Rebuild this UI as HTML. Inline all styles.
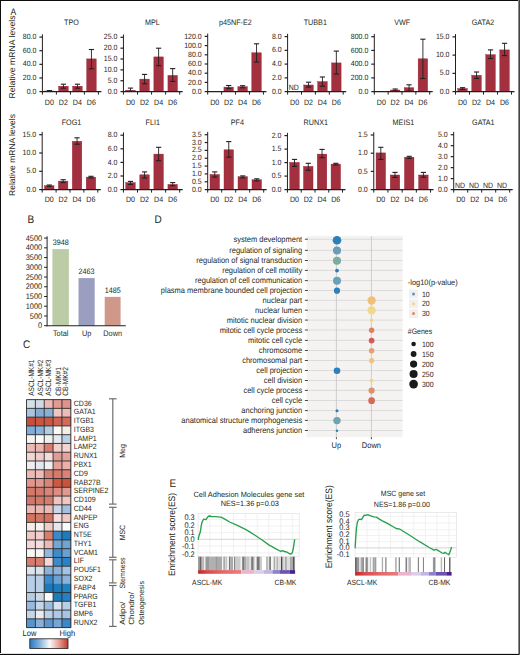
<!DOCTYPE html>
<html><head><meta charset="utf-8"><style>
html,body{margin:0;padding:0;background:#fff;}
svg{display:block;font-family:"Liberation Sans", sans-serif;text-rendering:geometricPrecision;}
</style></head><body>
<svg width="520" height="655" viewBox="0 0 520 655">
<rect x="0" y="0" width="520" height="655" fill="#ffffff"/>
<text transform="translate(71.40,24.60) scale(0.9091,1)" font-size="7.92" text-anchor="middle" fill="#231f20" >TPO</text>
<line x1="42.40" y1="34.30" x2="42.40" y2="92.10" stroke="#231f20" stroke-width="1.0" />
<line x1="39.40" y1="37.10" x2="42.40" y2="37.10" stroke="#231f20" stroke-width="1.2" />
<text transform="translate(36.40,39.20) scale(0.9091,1)" font-size="7.70" text-anchor="end" fill="#231f20" >80.0</text>
<line x1="39.40" y1="50.73" x2="42.40" y2="50.73" stroke="#231f20" stroke-width="1.2" />
<text transform="translate(36.40,52.83) scale(0.9091,1)" font-size="7.70" text-anchor="end" fill="#231f20" >60.0</text>
<line x1="39.40" y1="64.35" x2="42.40" y2="64.35" stroke="#231f20" stroke-width="1.2" />
<text transform="translate(36.40,66.45) scale(0.9091,1)" font-size="7.70" text-anchor="end" fill="#231f20" >40.0</text>
<line x1="39.40" y1="77.97" x2="42.40" y2="77.97" stroke="#231f20" stroke-width="1.2" />
<text transform="translate(36.40,80.07) scale(0.9091,1)" font-size="7.70" text-anchor="end" fill="#231f20" >20.0</text>
<line x1="39.40" y1="91.60" x2="42.40" y2="91.60" stroke="#231f20" stroke-width="1.2" />
<text transform="translate(36.40,93.70) scale(0.9091,1)" font-size="7.70" text-anchor="end" fill="#231f20" >0.0</text>
<rect x="44.70" y="91.00" width="9.50" height="0.60" fill="#a3303f" stroke="#9a1c30" stroke-width="0.4"/>
<line x1="49.45" y1="90.60" x2="49.45" y2="91.20" stroke="#231f20" stroke-width="0.9" />
<line x1="46.85" y1="90.60" x2="52.05" y2="90.60" stroke="#231f20" stroke-width="1.1" />
<line x1="46.85" y1="91.20" x2="52.05" y2="91.20" stroke="#231f20" stroke-width="1.1" />
<rect x="58.70" y="86.20" width="9.50" height="5.40" fill="#a3303f" stroke="#9a1c30" stroke-width="0.4"/>
<line x1="63.45" y1="84.20" x2="63.45" y2="88.20" stroke="#231f20" stroke-width="0.9" />
<line x1="60.85" y1="84.20" x2="66.05" y2="84.20" stroke="#231f20" stroke-width="1.1" />
<line x1="60.85" y1="88.20" x2="66.05" y2="88.20" stroke="#231f20" stroke-width="1.1" />
<rect x="72.70" y="86.20" width="9.50" height="5.40" fill="#a3303f" stroke="#9a1c30" stroke-width="0.4"/>
<line x1="77.45" y1="84.20" x2="77.45" y2="88.20" stroke="#231f20" stroke-width="0.9" />
<line x1="74.85" y1="84.20" x2="80.05" y2="84.20" stroke="#231f20" stroke-width="1.1" />
<line x1="74.85" y1="88.20" x2="80.05" y2="88.20" stroke="#231f20" stroke-width="1.1" />
<rect x="86.70" y="58.90" width="9.50" height="32.70" fill="#a3303f" stroke="#9a1c30" stroke-width="0.4"/>
<line x1="91.45" y1="49.50" x2="91.45" y2="68.80" stroke="#231f20" stroke-width="0.9" />
<line x1="88.85" y1="49.50" x2="94.05" y2="49.50" stroke="#231f20" stroke-width="1.1" />
<line x1="88.85" y1="68.80" x2="94.05" y2="68.80" stroke="#231f20" stroke-width="1.1" />
<line x1="41.90" y1="91.60" x2="101.40" y2="91.60" stroke="#231f20" stroke-width="1.1" />
<line x1="42.40" y1="91.60" x2="42.40" y2="94.60" stroke="#231f20" stroke-width="1.0" />
<line x1="56.40" y1="91.60" x2="56.40" y2="94.60" stroke="#231f20" stroke-width="1.0" />
<line x1="70.40" y1="91.60" x2="70.40" y2="94.60" stroke="#231f20" stroke-width="1.0" />
<line x1="84.40" y1="91.60" x2="84.40" y2="94.60" stroke="#231f20" stroke-width="1.0" />
<line x1="98.40" y1="91.60" x2="98.40" y2="94.60" stroke="#231f20" stroke-width="1.0" />
<text transform="translate(49.40,104.70) scale(0.9091,1)" font-size="7.81" text-anchor="middle" fill="#231f20" >D0</text>
<text transform="translate(63.40,104.70) scale(0.9091,1)" font-size="7.81" text-anchor="middle" fill="#231f20" >D2</text>
<text transform="translate(77.40,104.70) scale(0.9091,1)" font-size="7.81" text-anchor="middle" fill="#231f20" >D4</text>
<text transform="translate(91.40,104.70) scale(0.9091,1)" font-size="7.81" text-anchor="middle" fill="#231f20" >D6</text>
<text transform="translate(152.30,24.60) scale(0.9091,1)" font-size="7.92" text-anchor="middle" fill="#231f20" >MPL</text>
<line x1="123.45" y1="34.50" x2="123.45" y2="92.10" stroke="#231f20" stroke-width="1.0" />
<line x1="120.45" y1="37.30" x2="123.45" y2="37.30" stroke="#231f20" stroke-width="1.2" />
<text transform="translate(117.45,39.40) scale(0.9091,1)" font-size="7.70" text-anchor="end" fill="#231f20" >25.0</text>
<line x1="120.45" y1="48.16" x2="123.45" y2="48.16" stroke="#231f20" stroke-width="1.2" />
<text transform="translate(117.45,50.26) scale(0.9091,1)" font-size="7.70" text-anchor="end" fill="#231f20" >20.0</text>
<line x1="120.45" y1="59.02" x2="123.45" y2="59.02" stroke="#231f20" stroke-width="1.2" />
<text transform="translate(117.45,61.12) scale(0.9091,1)" font-size="7.70" text-anchor="end" fill="#231f20" >15.0</text>
<line x1="120.45" y1="69.88" x2="123.45" y2="69.88" stroke="#231f20" stroke-width="1.2" />
<text transform="translate(117.45,71.98) scale(0.9091,1)" font-size="7.70" text-anchor="end" fill="#231f20" >10.0</text>
<line x1="120.45" y1="80.74" x2="123.45" y2="80.74" stroke="#231f20" stroke-width="1.2" />
<text transform="translate(117.45,82.84) scale(0.9091,1)" font-size="7.70" text-anchor="end" fill="#231f20" >5.0</text>
<line x1="120.45" y1="91.60" x2="123.45" y2="91.60" stroke="#231f20" stroke-width="1.2" />
<text transform="translate(117.45,93.70) scale(0.9091,1)" font-size="7.70" text-anchor="end" fill="#231f20" >0.0</text>
<rect x="125.75" y="90.20" width="9.50" height="1.40" fill="#a3303f" stroke="#9a1c30" stroke-width="0.4"/>
<line x1="130.50" y1="88.10" x2="130.50" y2="91.40" stroke="#231f20" stroke-width="0.9" />
<line x1="127.90" y1="88.10" x2="133.10" y2="88.10" stroke="#231f20" stroke-width="1.1" />
<line x1="127.90" y1="91.40" x2="133.10" y2="91.40" stroke="#231f20" stroke-width="1.1" />
<rect x="139.81" y="79.10" width="9.50" height="12.50" fill="#a3303f" stroke="#9a1c30" stroke-width="0.4"/>
<line x1="144.56" y1="74.40" x2="144.56" y2="83.80" stroke="#231f20" stroke-width="0.9" />
<line x1="141.96" y1="74.40" x2="147.16" y2="74.40" stroke="#231f20" stroke-width="1.1" />
<line x1="141.96" y1="83.80" x2="147.16" y2="83.80" stroke="#231f20" stroke-width="1.1" />
<rect x="153.87" y="56.90" width="9.50" height="34.70" fill="#a3303f" stroke="#9a1c30" stroke-width="0.4"/>
<line x1="158.62" y1="48.20" x2="158.62" y2="65.70" stroke="#231f20" stroke-width="0.9" />
<line x1="156.02" y1="48.20" x2="161.22" y2="48.20" stroke="#231f20" stroke-width="1.1" />
<line x1="156.02" y1="65.70" x2="161.22" y2="65.70" stroke="#231f20" stroke-width="1.1" />
<rect x="167.93" y="75.40" width="9.50" height="16.20" fill="#a3303f" stroke="#9a1c30" stroke-width="0.4"/>
<line x1="172.68" y1="68.60" x2="172.68" y2="81.40" stroke="#231f20" stroke-width="0.9" />
<line x1="170.08" y1="68.60" x2="175.28" y2="68.60" stroke="#231f20" stroke-width="1.1" />
<line x1="170.08" y1="81.40" x2="175.28" y2="81.40" stroke="#231f20" stroke-width="1.1" />
<line x1="122.95" y1="91.60" x2="182.69" y2="91.60" stroke="#231f20" stroke-width="1.1" />
<line x1="123.45" y1="91.60" x2="123.45" y2="94.60" stroke="#231f20" stroke-width="1.0" />
<line x1="137.51" y1="91.60" x2="137.51" y2="94.60" stroke="#231f20" stroke-width="1.0" />
<line x1="151.57" y1="91.60" x2="151.57" y2="94.60" stroke="#231f20" stroke-width="1.0" />
<line x1="165.63" y1="91.60" x2="165.63" y2="94.60" stroke="#231f20" stroke-width="1.0" />
<line x1="179.69" y1="91.60" x2="179.69" y2="94.60" stroke="#231f20" stroke-width="1.0" />
<text transform="translate(130.45,104.70) scale(0.9091,1)" font-size="7.81" text-anchor="middle" fill="#231f20" >D0</text>
<text transform="translate(144.51,104.70) scale(0.9091,1)" font-size="7.81" text-anchor="middle" fill="#231f20" >D2</text>
<text transform="translate(158.57,104.70) scale(0.9091,1)" font-size="7.81" text-anchor="middle" fill="#231f20" >D4</text>
<text transform="translate(172.63,104.70) scale(0.9091,1)" font-size="7.81" text-anchor="middle" fill="#231f20" >D6</text>
<text transform="translate(235.40,24.60) scale(0.9091,1)" font-size="7.92" text-anchor="middle" fill="#231f20" >p45NF-E2</text>
<line x1="207.70" y1="33.60" x2="207.70" y2="92.10" stroke="#231f20" stroke-width="1.0" />
<line x1="204.70" y1="36.40" x2="207.70" y2="36.40" stroke="#231f20" stroke-width="1.2" />
<text transform="translate(201.70,38.50) scale(0.9091,1)" font-size="7.70" text-anchor="end" fill="#231f20" >120.0</text>
<line x1="204.70" y1="45.60" x2="207.70" y2="45.60" stroke="#231f20" stroke-width="1.2" />
<text transform="translate(201.70,47.70) scale(0.9091,1)" font-size="7.70" text-anchor="end" fill="#231f20" >100.0</text>
<line x1="204.70" y1="54.80" x2="207.70" y2="54.80" stroke="#231f20" stroke-width="1.2" />
<text transform="translate(201.70,56.90) scale(0.9091,1)" font-size="7.70" text-anchor="end" fill="#231f20" >80.0</text>
<line x1="204.70" y1="64.00" x2="207.70" y2="64.00" stroke="#231f20" stroke-width="1.2" />
<text transform="translate(201.70,66.10) scale(0.9091,1)" font-size="7.70" text-anchor="end" fill="#231f20" >60.0</text>
<line x1="204.70" y1="73.20" x2="207.70" y2="73.20" stroke="#231f20" stroke-width="1.2" />
<text transform="translate(201.70,75.30) scale(0.9091,1)" font-size="7.70" text-anchor="end" fill="#231f20" >40.0</text>
<line x1="204.70" y1="82.40" x2="207.70" y2="82.40" stroke="#231f20" stroke-width="1.2" />
<text transform="translate(201.70,84.50) scale(0.9091,1)" font-size="7.70" text-anchor="end" fill="#231f20" >20.0</text>
<line x1="204.70" y1="91.60" x2="207.70" y2="91.60" stroke="#231f20" stroke-width="1.2" />
<text transform="translate(201.70,93.70) scale(0.9091,1)" font-size="7.70" text-anchor="end" fill="#231f20" >0.0</text>
<rect x="210.00" y="91.30" width="9.50" height="0.30" fill="#a3303f" stroke="#9a1c30" stroke-width="0.4"/>
<rect x="223.93" y="87.10" width="9.50" height="4.50" fill="#a3303f" stroke="#9a1c30" stroke-width="0.4"/>
<line x1="228.68" y1="85.50" x2="228.68" y2="88.60" stroke="#231f20" stroke-width="0.9" />
<line x1="226.08" y1="85.50" x2="231.28" y2="85.50" stroke="#231f20" stroke-width="1.1" />
<line x1="226.08" y1="88.60" x2="231.28" y2="88.60" stroke="#231f20" stroke-width="1.1" />
<rect x="237.86" y="86.70" width="9.50" height="4.90" fill="#a3303f" stroke="#9a1c30" stroke-width="0.4"/>
<line x1="242.61" y1="85.70" x2="242.61" y2="87.80" stroke="#231f20" stroke-width="0.9" />
<line x1="240.01" y1="85.70" x2="245.21" y2="85.70" stroke="#231f20" stroke-width="1.1" />
<line x1="240.01" y1="87.80" x2="245.21" y2="87.80" stroke="#231f20" stroke-width="1.1" />
<rect x="251.79" y="52.80" width="9.50" height="38.80" fill="#a3303f" stroke="#9a1c30" stroke-width="0.4"/>
<line x1="256.54" y1="43.80" x2="256.54" y2="62.00" stroke="#231f20" stroke-width="0.9" />
<line x1="253.94" y1="43.80" x2="259.14" y2="43.80" stroke="#231f20" stroke-width="1.1" />
<line x1="253.94" y1="62.00" x2="259.14" y2="62.00" stroke="#231f20" stroke-width="1.1" />
<line x1="207.20" y1="91.60" x2="266.42" y2="91.60" stroke="#231f20" stroke-width="1.1" />
<line x1="207.70" y1="91.60" x2="207.70" y2="94.60" stroke="#231f20" stroke-width="1.0" />
<line x1="221.63" y1="91.60" x2="221.63" y2="94.60" stroke="#231f20" stroke-width="1.0" />
<line x1="235.56" y1="91.60" x2="235.56" y2="94.60" stroke="#231f20" stroke-width="1.0" />
<line x1="249.49" y1="91.60" x2="249.49" y2="94.60" stroke="#231f20" stroke-width="1.0" />
<line x1="263.42" y1="91.60" x2="263.42" y2="94.60" stroke="#231f20" stroke-width="1.0" />
<text transform="translate(214.70,104.70) scale(0.9091,1)" font-size="7.81" text-anchor="middle" fill="#231f20" >D0</text>
<text transform="translate(228.63,104.70) scale(0.9091,1)" font-size="7.81" text-anchor="middle" fill="#231f20" >D2</text>
<text transform="translate(242.56,104.70) scale(0.9091,1)" font-size="7.81" text-anchor="middle" fill="#231f20" >D4</text>
<text transform="translate(256.49,104.70) scale(0.9091,1)" font-size="7.81" text-anchor="middle" fill="#231f20" >D6</text>
<text transform="translate(315.30,24.60) scale(0.9091,1)" font-size="7.92" text-anchor="middle" fill="#231f20" >TUBB1</text>
<line x1="287.60" y1="33.80" x2="287.60" y2="92.10" stroke="#231f20" stroke-width="1.0" />
<line x1="284.60" y1="36.60" x2="287.60" y2="36.60" stroke="#231f20" stroke-width="1.2" />
<text transform="translate(281.60,38.70) scale(0.9091,1)" font-size="7.70" text-anchor="end" fill="#231f20" >8.0</text>
<line x1="284.60" y1="50.35" x2="287.60" y2="50.35" stroke="#231f20" stroke-width="1.2" />
<text transform="translate(281.60,52.45) scale(0.9091,1)" font-size="7.70" text-anchor="end" fill="#231f20" >6.0</text>
<line x1="284.60" y1="64.10" x2="287.60" y2="64.10" stroke="#231f20" stroke-width="1.2" />
<text transform="translate(281.60,66.20) scale(0.9091,1)" font-size="7.70" text-anchor="end" fill="#231f20" >4.0</text>
<line x1="284.60" y1="77.85" x2="287.60" y2="77.85" stroke="#231f20" stroke-width="1.2" />
<text transform="translate(281.60,79.95) scale(0.9091,1)" font-size="7.70" text-anchor="end" fill="#231f20" >2.0</text>
<line x1="284.60" y1="91.60" x2="287.60" y2="91.60" stroke="#231f20" stroke-width="1.2" />
<text transform="translate(281.60,93.70) scale(0.9091,1)" font-size="7.70" text-anchor="end" fill="#231f20" >0.0</text>
<text transform="translate(288.80,89.70) scale(0.9091,1)" font-size="7.70" text-anchor="start" fill="#231f20" >ND</text>
<rect x="303.80" y="85.00" width="9.50" height="6.60" fill="#a3303f" stroke="#9a1c30" stroke-width="0.4"/>
<line x1="308.55" y1="82.20" x2="308.55" y2="87.10" stroke="#231f20" stroke-width="0.9" />
<line x1="305.95" y1="82.20" x2="311.15" y2="82.20" stroke="#231f20" stroke-width="1.1" />
<line x1="305.95" y1="87.10" x2="311.15" y2="87.10" stroke="#231f20" stroke-width="1.1" />
<rect x="317.70" y="81.60" width="9.50" height="10.00" fill="#a3303f" stroke="#9a1c30" stroke-width="0.4"/>
<line x1="322.45" y1="77.00" x2="322.45" y2="86.20" stroke="#231f20" stroke-width="0.9" />
<line x1="319.85" y1="77.00" x2="325.05" y2="77.00" stroke="#231f20" stroke-width="1.1" />
<line x1="319.85" y1="86.20" x2="325.05" y2="86.20" stroke="#231f20" stroke-width="1.1" />
<rect x="331.60" y="62.90" width="9.50" height="28.70" fill="#a3303f" stroke="#9a1c30" stroke-width="0.4"/>
<line x1="336.35" y1="51.10" x2="336.35" y2="74.10" stroke="#231f20" stroke-width="0.9" />
<line x1="333.75" y1="51.10" x2="338.95" y2="51.10" stroke="#231f20" stroke-width="1.1" />
<line x1="333.75" y1="74.10" x2="338.95" y2="74.10" stroke="#231f20" stroke-width="1.1" />
<line x1="287.10" y1="91.60" x2="346.20" y2="91.60" stroke="#231f20" stroke-width="1.1" />
<line x1="287.60" y1="91.60" x2="287.60" y2="94.60" stroke="#231f20" stroke-width="1.0" />
<line x1="301.50" y1="91.60" x2="301.50" y2="94.60" stroke="#231f20" stroke-width="1.0" />
<line x1="315.40" y1="91.60" x2="315.40" y2="94.60" stroke="#231f20" stroke-width="1.0" />
<line x1="329.30" y1="91.60" x2="329.30" y2="94.60" stroke="#231f20" stroke-width="1.0" />
<line x1="343.20" y1="91.60" x2="343.20" y2="94.60" stroke="#231f20" stroke-width="1.0" />
<text transform="translate(294.60,104.70) scale(0.9091,1)" font-size="7.81" text-anchor="middle" fill="#231f20" >D0</text>
<text transform="translate(308.50,104.70) scale(0.9091,1)" font-size="7.81" text-anchor="middle" fill="#231f20" >D2</text>
<text transform="translate(322.40,104.70) scale(0.9091,1)" font-size="7.81" text-anchor="middle" fill="#231f20" >D4</text>
<text transform="translate(336.30,104.70) scale(0.9091,1)" font-size="7.81" text-anchor="middle" fill="#231f20" >D6</text>
<text transform="translate(402.20,24.60) scale(0.9091,1)" font-size="7.92" text-anchor="middle" fill="#231f20" >VWF</text>
<line x1="374.30" y1="33.90" x2="374.30" y2="92.10" stroke="#231f20" stroke-width="1.0" />
<line x1="371.30" y1="36.70" x2="374.30" y2="36.70" stroke="#231f20" stroke-width="1.2" />
<text transform="translate(368.30,38.80) scale(0.9091,1)" font-size="7.70" text-anchor="end" fill="#231f20" >800.0</text>
<line x1="371.30" y1="50.42" x2="374.30" y2="50.42" stroke="#231f20" stroke-width="1.2" />
<text transform="translate(368.30,52.52) scale(0.9091,1)" font-size="7.70" text-anchor="end" fill="#231f20" >600.0</text>
<line x1="371.30" y1="64.15" x2="374.30" y2="64.15" stroke="#231f20" stroke-width="1.2" />
<text transform="translate(368.30,66.25) scale(0.9091,1)" font-size="7.70" text-anchor="end" fill="#231f20" >400.0</text>
<line x1="371.30" y1="77.88" x2="374.30" y2="77.88" stroke="#231f20" stroke-width="1.2" />
<text transform="translate(368.30,79.97) scale(0.9091,1)" font-size="7.70" text-anchor="end" fill="#231f20" >200.0</text>
<line x1="371.30" y1="91.60" x2="374.30" y2="91.60" stroke="#231f20" stroke-width="1.2" />
<text transform="translate(368.30,93.70) scale(0.9091,1)" font-size="7.70" text-anchor="end" fill="#231f20" >0.0</text>
<rect x="376.60" y="91.20" width="9.50" height="0.40" fill="#a3303f" stroke="#9a1c30" stroke-width="0.4"/>
<rect x="390.45" y="90.00" width="9.50" height="1.60" fill="#a3303f" stroke="#9a1c30" stroke-width="0.4"/>
<line x1="395.20" y1="89.00" x2="395.20" y2="91.00" stroke="#231f20" stroke-width="0.9" />
<line x1="392.60" y1="89.00" x2="397.80" y2="89.00" stroke="#231f20" stroke-width="1.1" />
<line x1="392.60" y1="91.00" x2="397.80" y2="91.00" stroke="#231f20" stroke-width="1.1" />
<rect x="404.30" y="87.70" width="9.50" height="3.90" fill="#a3303f" stroke="#9a1c30" stroke-width="0.4"/>
<line x1="409.05" y1="84.80" x2="409.05" y2="91.20" stroke="#231f20" stroke-width="0.9" />
<line x1="406.45" y1="84.80" x2="411.65" y2="84.80" stroke="#231f20" stroke-width="1.1" />
<line x1="406.45" y1="91.20" x2="411.65" y2="91.20" stroke="#231f20" stroke-width="1.1" />
<rect x="418.15" y="58.80" width="9.50" height="32.80" fill="#a3303f" stroke="#9a1c30" stroke-width="0.4"/>
<line x1="422.90" y1="39.20" x2="422.90" y2="78.50" stroke="#231f20" stroke-width="0.9" />
<line x1="420.30" y1="39.20" x2="425.50" y2="39.20" stroke="#231f20" stroke-width="1.1" />
<line x1="420.30" y1="78.50" x2="425.50" y2="78.50" stroke="#231f20" stroke-width="1.1" />
<line x1="373.80" y1="91.60" x2="432.70" y2="91.60" stroke="#231f20" stroke-width="1.1" />
<line x1="374.30" y1="91.60" x2="374.30" y2="94.60" stroke="#231f20" stroke-width="1.0" />
<line x1="388.15" y1="91.60" x2="388.15" y2="94.60" stroke="#231f20" stroke-width="1.0" />
<line x1="402.00" y1="91.60" x2="402.00" y2="94.60" stroke="#231f20" stroke-width="1.0" />
<line x1="415.85" y1="91.60" x2="415.85" y2="94.60" stroke="#231f20" stroke-width="1.0" />
<line x1="429.70" y1="91.60" x2="429.70" y2="94.60" stroke="#231f20" stroke-width="1.0" />
<text transform="translate(381.30,104.70) scale(0.9091,1)" font-size="7.81" text-anchor="middle" fill="#231f20" >D0</text>
<text transform="translate(395.15,104.70) scale(0.9091,1)" font-size="7.81" text-anchor="middle" fill="#231f20" >D2</text>
<text transform="translate(409.00,104.70) scale(0.9091,1)" font-size="7.81" text-anchor="middle" fill="#231f20" >D4</text>
<text transform="translate(422.85,104.70) scale(0.9091,1)" font-size="7.81" text-anchor="middle" fill="#231f20" >D6</text>
<text transform="translate(483.00,24.60) scale(0.9091,1)" font-size="7.92" text-anchor="middle" fill="#231f20" >GATA2</text>
<line x1="455.50" y1="34.10" x2="455.50" y2="92.10" stroke="#231f20" stroke-width="1.0" />
<line x1="452.50" y1="36.90" x2="455.50" y2="36.90" stroke="#231f20" stroke-width="1.2" />
<text transform="translate(449.50,39.00) scale(0.9091,1)" font-size="7.70" text-anchor="end" fill="#231f20" >15.0</text>
<line x1="452.50" y1="55.13" x2="455.50" y2="55.13" stroke="#231f20" stroke-width="1.2" />
<text transform="translate(449.50,57.23) scale(0.9091,1)" font-size="7.70" text-anchor="end" fill="#231f20" >10.0</text>
<line x1="452.50" y1="73.37" x2="455.50" y2="73.37" stroke="#231f20" stroke-width="1.2" />
<text transform="translate(449.50,75.47) scale(0.9091,1)" font-size="7.70" text-anchor="end" fill="#231f20" >5.0</text>
<line x1="452.50" y1="91.60" x2="455.50" y2="91.60" stroke="#231f20" stroke-width="1.2" />
<text transform="translate(449.50,93.70) scale(0.9091,1)" font-size="7.70" text-anchor="end" fill="#231f20" >0.0</text>
<rect x="457.80" y="88.50" width="9.50" height="3.10" fill="#a3303f" stroke="#9a1c30" stroke-width="0.4"/>
<line x1="462.55" y1="87.70" x2="462.55" y2="89.40" stroke="#231f20" stroke-width="0.9" />
<line x1="459.95" y1="87.70" x2="465.15" y2="87.70" stroke="#231f20" stroke-width="1.1" />
<line x1="459.95" y1="89.40" x2="465.15" y2="89.40" stroke="#231f20" stroke-width="1.1" />
<rect x="471.80" y="75.30" width="9.50" height="16.30" fill="#a3303f" stroke="#9a1c30" stroke-width="0.4"/>
<line x1="476.55" y1="72.00" x2="476.55" y2="78.40" stroke="#231f20" stroke-width="0.9" />
<line x1="473.95" y1="72.00" x2="479.15" y2="72.00" stroke="#231f20" stroke-width="1.1" />
<line x1="473.95" y1="78.40" x2="479.15" y2="78.40" stroke="#231f20" stroke-width="1.1" />
<rect x="485.80" y="54.70" width="9.50" height="36.90" fill="#a3303f" stroke="#9a1c30" stroke-width="0.4"/>
<line x1="490.55" y1="49.90" x2="490.55" y2="58.50" stroke="#231f20" stroke-width="0.9" />
<line x1="487.95" y1="49.90" x2="493.15" y2="49.90" stroke="#231f20" stroke-width="1.1" />
<line x1="487.95" y1="58.50" x2="493.15" y2="58.50" stroke="#231f20" stroke-width="1.1" />
<rect x="499.80" y="49.90" width="9.50" height="41.70" fill="#a3303f" stroke="#9a1c30" stroke-width="0.4"/>
<line x1="504.55" y1="43.30" x2="504.55" y2="55.60" stroke="#231f20" stroke-width="0.9" />
<line x1="501.95" y1="43.30" x2="507.15" y2="43.30" stroke="#231f20" stroke-width="1.1" />
<line x1="501.95" y1="55.60" x2="507.15" y2="55.60" stroke="#231f20" stroke-width="1.1" />
<line x1="455.00" y1="91.60" x2="514.50" y2="91.60" stroke="#231f20" stroke-width="1.1" />
<line x1="455.50" y1="91.60" x2="455.50" y2="94.60" stroke="#231f20" stroke-width="1.0" />
<line x1="469.50" y1="91.60" x2="469.50" y2="94.60" stroke="#231f20" stroke-width="1.0" />
<line x1="483.50" y1="91.60" x2="483.50" y2="94.60" stroke="#231f20" stroke-width="1.0" />
<line x1="497.50" y1="91.60" x2="497.50" y2="94.60" stroke="#231f20" stroke-width="1.0" />
<line x1="511.50" y1="91.60" x2="511.50" y2="94.60" stroke="#231f20" stroke-width="1.0" />
<text transform="translate(462.50,104.70) scale(0.9091,1)" font-size="7.81" text-anchor="middle" fill="#231f20" >D0</text>
<text transform="translate(476.50,104.70) scale(0.9091,1)" font-size="7.81" text-anchor="middle" fill="#231f20" >D2</text>
<text transform="translate(490.50,104.70) scale(0.9091,1)" font-size="7.81" text-anchor="middle" fill="#231f20" >D4</text>
<text transform="translate(504.50,104.70) scale(0.9091,1)" font-size="7.81" text-anchor="middle" fill="#231f20" >D6</text>
<text transform="translate(71.50,124.80) scale(0.9091,1)" font-size="7.92" text-anchor="middle" fill="#231f20" >FOG1</text>
<line x1="42.20" y1="131.90" x2="42.20" y2="190.10" stroke="#231f20" stroke-width="1.0" />
<line x1="39.20" y1="134.70" x2="42.20" y2="134.70" stroke="#231f20" stroke-width="1.2" />
<text transform="translate(36.20,136.80) scale(0.9091,1)" font-size="7.70" text-anchor="end" fill="#231f20" >15.0</text>
<line x1="39.20" y1="153.00" x2="42.20" y2="153.00" stroke="#231f20" stroke-width="1.2" />
<text transform="translate(36.20,155.10) scale(0.9091,1)" font-size="7.70" text-anchor="end" fill="#231f20" >10.0</text>
<line x1="39.20" y1="171.30" x2="42.20" y2="171.30" stroke="#231f20" stroke-width="1.2" />
<text transform="translate(36.20,173.40) scale(0.9091,1)" font-size="7.70" text-anchor="end" fill="#231f20" >5.0</text>
<line x1="39.20" y1="189.60" x2="42.20" y2="189.60" stroke="#231f20" stroke-width="1.2" />
<text transform="translate(36.20,191.70) scale(0.9091,1)" font-size="7.70" text-anchor="end" fill="#231f20" >0.0</text>
<rect x="44.50" y="185.70" width="9.50" height="3.90" fill="#a3303f" stroke="#9a1c30" stroke-width="0.4"/>
<line x1="49.25" y1="185.00" x2="49.25" y2="186.40" stroke="#231f20" stroke-width="0.9" />
<line x1="46.65" y1="185.00" x2="51.85" y2="185.00" stroke="#231f20" stroke-width="1.1" />
<line x1="46.65" y1="186.40" x2="51.85" y2="186.40" stroke="#231f20" stroke-width="1.1" />
<rect x="58.40" y="181.10" width="9.50" height="8.50" fill="#a3303f" stroke="#9a1c30" stroke-width="0.4"/>
<line x1="63.15" y1="179.70" x2="63.15" y2="182.60" stroke="#231f20" stroke-width="0.9" />
<line x1="60.55" y1="179.70" x2="65.75" y2="179.70" stroke="#231f20" stroke-width="1.1" />
<line x1="60.55" y1="182.60" x2="65.75" y2="182.60" stroke="#231f20" stroke-width="1.1" />
<rect x="72.30" y="141.30" width="9.50" height="48.30" fill="#a3303f" stroke="#9a1c30" stroke-width="0.4"/>
<line x1="77.05" y1="137.80" x2="77.05" y2="144.20" stroke="#231f20" stroke-width="0.9" />
<line x1="74.45" y1="137.80" x2="79.65" y2="137.80" stroke="#231f20" stroke-width="1.1" />
<line x1="74.45" y1="144.20" x2="79.65" y2="144.20" stroke="#231f20" stroke-width="1.1" />
<rect x="86.20" y="177.10" width="9.50" height="12.50" fill="#a3303f" stroke="#9a1c30" stroke-width="0.4"/>
<line x1="90.95" y1="176.30" x2="90.95" y2="178.00" stroke="#231f20" stroke-width="0.9" />
<line x1="88.35" y1="176.30" x2="93.55" y2="176.30" stroke="#231f20" stroke-width="1.1" />
<line x1="88.35" y1="178.00" x2="93.55" y2="178.00" stroke="#231f20" stroke-width="1.1" />
<line x1="41.70" y1="189.60" x2="100.80" y2="189.60" stroke="#231f20" stroke-width="1.1" />
<line x1="42.20" y1="189.60" x2="42.20" y2="192.60" stroke="#231f20" stroke-width="1.0" />
<line x1="56.10" y1="189.60" x2="56.10" y2="192.60" stroke="#231f20" stroke-width="1.0" />
<line x1="70.00" y1="189.60" x2="70.00" y2="192.60" stroke="#231f20" stroke-width="1.0" />
<line x1="83.90" y1="189.60" x2="83.90" y2="192.60" stroke="#231f20" stroke-width="1.0" />
<line x1="97.80" y1="189.60" x2="97.80" y2="192.60" stroke="#231f20" stroke-width="1.0" />
<text transform="translate(49.20,201.80) scale(0.9091,1)" font-size="7.81" text-anchor="middle" fill="#231f20" >D0</text>
<text transform="translate(63.10,201.80) scale(0.9091,1)" font-size="7.81" text-anchor="middle" fill="#231f20" >D2</text>
<text transform="translate(77.00,201.80) scale(0.9091,1)" font-size="7.81" text-anchor="middle" fill="#231f20" >D4</text>
<text transform="translate(90.90,201.80) scale(0.9091,1)" font-size="7.81" text-anchor="middle" fill="#231f20" >D6</text>
<text transform="translate(152.80,124.80) scale(0.9091,1)" font-size="7.92" text-anchor="middle" fill="#231f20" >FLI1</text>
<line x1="123.45" y1="132.40" x2="123.45" y2="190.10" stroke="#231f20" stroke-width="1.0" />
<line x1="120.45" y1="135.20" x2="123.45" y2="135.20" stroke="#231f20" stroke-width="1.2" />
<text transform="translate(117.45,137.30) scale(0.9091,1)" font-size="7.70" text-anchor="end" fill="#231f20" >8.0</text>
<line x1="120.45" y1="148.80" x2="123.45" y2="148.80" stroke="#231f20" stroke-width="1.2" />
<text transform="translate(117.45,150.90) scale(0.9091,1)" font-size="7.70" text-anchor="end" fill="#231f20" >6.0</text>
<line x1="120.45" y1="162.40" x2="123.45" y2="162.40" stroke="#231f20" stroke-width="1.2" />
<text transform="translate(117.45,164.50) scale(0.9091,1)" font-size="7.70" text-anchor="end" fill="#231f20" >4.0</text>
<line x1="120.45" y1="176.00" x2="123.45" y2="176.00" stroke="#231f20" stroke-width="1.2" />
<text transform="translate(117.45,178.10) scale(0.9091,1)" font-size="7.70" text-anchor="end" fill="#231f20" >2.0</text>
<line x1="120.45" y1="189.60" x2="123.45" y2="189.60" stroke="#231f20" stroke-width="1.2" />
<text transform="translate(117.45,191.70) scale(0.9091,1)" font-size="7.70" text-anchor="end" fill="#231f20" >0.0</text>
<rect x="125.75" y="182.60" width="9.50" height="7.00" fill="#a3303f" stroke="#9a1c30" stroke-width="0.4"/>
<line x1="130.50" y1="181.40" x2="130.50" y2="184.40" stroke="#231f20" stroke-width="0.9" />
<line x1="127.90" y1="181.40" x2="133.10" y2="181.40" stroke="#231f20" stroke-width="1.1" />
<line x1="127.90" y1="184.40" x2="133.10" y2="184.40" stroke="#231f20" stroke-width="1.1" />
<rect x="139.81" y="174.80" width="9.50" height="14.80" fill="#a3303f" stroke="#9a1c30" stroke-width="0.4"/>
<line x1="144.56" y1="171.90" x2="144.56" y2="178.00" stroke="#231f20" stroke-width="0.9" />
<line x1="141.96" y1="171.90" x2="147.16" y2="171.90" stroke="#231f20" stroke-width="1.1" />
<line x1="141.96" y1="178.00" x2="147.16" y2="178.00" stroke="#231f20" stroke-width="1.1" />
<rect x="153.87" y="154.10" width="9.50" height="35.50" fill="#a3303f" stroke="#9a1c30" stroke-width="0.4"/>
<line x1="158.62" y1="147.30" x2="158.62" y2="160.70" stroke="#231f20" stroke-width="0.9" />
<line x1="156.02" y1="147.30" x2="161.22" y2="147.30" stroke="#231f20" stroke-width="1.1" />
<line x1="156.02" y1="160.70" x2="161.22" y2="160.70" stroke="#231f20" stroke-width="1.1" />
<rect x="167.93" y="184.40" width="9.50" height="5.20" fill="#a3303f" stroke="#9a1c30" stroke-width="0.4"/>
<line x1="172.68" y1="182.60" x2="172.68" y2="185.70" stroke="#231f20" stroke-width="0.9" />
<line x1="170.08" y1="182.60" x2="175.28" y2="182.60" stroke="#231f20" stroke-width="1.1" />
<line x1="170.08" y1="185.70" x2="175.28" y2="185.70" stroke="#231f20" stroke-width="1.1" />
<line x1="122.95" y1="189.60" x2="182.69" y2="189.60" stroke="#231f20" stroke-width="1.1" />
<line x1="123.45" y1="189.60" x2="123.45" y2="192.60" stroke="#231f20" stroke-width="1.0" />
<line x1="137.51" y1="189.60" x2="137.51" y2="192.60" stroke="#231f20" stroke-width="1.0" />
<line x1="151.57" y1="189.60" x2="151.57" y2="192.60" stroke="#231f20" stroke-width="1.0" />
<line x1="165.63" y1="189.60" x2="165.63" y2="192.60" stroke="#231f20" stroke-width="1.0" />
<line x1="179.69" y1="189.60" x2="179.69" y2="192.60" stroke="#231f20" stroke-width="1.0" />
<text transform="translate(130.45,201.80) scale(0.9091,1)" font-size="7.81" text-anchor="middle" fill="#231f20" >D0</text>
<text transform="translate(144.51,201.80) scale(0.9091,1)" font-size="7.81" text-anchor="middle" fill="#231f20" >D2</text>
<text transform="translate(158.57,201.80) scale(0.9091,1)" font-size="7.81" text-anchor="middle" fill="#231f20" >D4</text>
<text transform="translate(172.63,201.80) scale(0.9091,1)" font-size="7.81" text-anchor="middle" fill="#231f20" >D6</text>
<text transform="translate(237.40,124.80) scale(0.9091,1)" font-size="7.92" text-anchor="middle" fill="#231f20" >PF4</text>
<line x1="207.70" y1="131.90" x2="207.70" y2="190.10" stroke="#231f20" stroke-width="1.0" />
<line x1="204.70" y1="134.70" x2="207.70" y2="134.70" stroke="#231f20" stroke-width="1.2" />
<text transform="translate(201.70,136.80) scale(0.9091,1)" font-size="7.70" text-anchor="end" fill="#231f20" >3.5</text>
<line x1="204.70" y1="142.54" x2="207.70" y2="142.54" stroke="#231f20" stroke-width="1.2" />
<text transform="translate(201.70,144.64) scale(0.9091,1)" font-size="7.70" text-anchor="end" fill="#231f20" >3.0</text>
<line x1="204.70" y1="150.39" x2="207.70" y2="150.39" stroke="#231f20" stroke-width="1.2" />
<text transform="translate(201.70,152.49) scale(0.9091,1)" font-size="7.70" text-anchor="end" fill="#231f20" >2.5</text>
<line x1="204.70" y1="158.23" x2="207.70" y2="158.23" stroke="#231f20" stroke-width="1.2" />
<text transform="translate(201.70,160.33) scale(0.9091,1)" font-size="7.70" text-anchor="end" fill="#231f20" >2.0</text>
<line x1="204.70" y1="166.07" x2="207.70" y2="166.07" stroke="#231f20" stroke-width="1.2" />
<text transform="translate(201.70,168.17) scale(0.9091,1)" font-size="7.70" text-anchor="end" fill="#231f20" >1.5</text>
<line x1="204.70" y1="173.91" x2="207.70" y2="173.91" stroke="#231f20" stroke-width="1.2" />
<text transform="translate(201.70,176.01) scale(0.9091,1)" font-size="7.70" text-anchor="end" fill="#231f20" >1.0</text>
<line x1="204.70" y1="181.76" x2="207.70" y2="181.76" stroke="#231f20" stroke-width="1.2" />
<text transform="translate(201.70,183.86) scale(0.9091,1)" font-size="7.70" text-anchor="end" fill="#231f20" >0.5</text>
<line x1="204.70" y1="189.60" x2="207.70" y2="189.60" stroke="#231f20" stroke-width="1.2" />
<text transform="translate(201.70,191.70) scale(0.9091,1)" font-size="7.70" text-anchor="end" fill="#231f20" >0.0</text>
<rect x="210.00" y="174.50" width="9.50" height="15.10" fill="#a3303f" stroke="#9a1c30" stroke-width="0.4"/>
<line x1="214.75" y1="171.90" x2="214.75" y2="177.10" stroke="#231f20" stroke-width="0.9" />
<line x1="212.15" y1="171.90" x2="217.35" y2="171.90" stroke="#231f20" stroke-width="1.1" />
<line x1="212.15" y1="177.10" x2="217.35" y2="177.10" stroke="#231f20" stroke-width="1.1" />
<rect x="224.00" y="149.80" width="9.50" height="39.80" fill="#a3303f" stroke="#9a1c30" stroke-width="0.4"/>
<line x1="228.75" y1="141.60" x2="228.75" y2="157.20" stroke="#231f20" stroke-width="0.9" />
<line x1="226.15" y1="141.60" x2="231.35" y2="141.60" stroke="#231f20" stroke-width="1.1" />
<line x1="226.15" y1="157.20" x2="231.35" y2="157.20" stroke="#231f20" stroke-width="1.1" />
<rect x="238.00" y="176.70" width="9.50" height="12.90" fill="#a3303f" stroke="#9a1c30" stroke-width="0.4"/>
<line x1="242.75" y1="175.90" x2="242.75" y2="177.90" stroke="#231f20" stroke-width="0.9" />
<line x1="240.15" y1="175.90" x2="245.35" y2="175.90" stroke="#231f20" stroke-width="1.1" />
<line x1="240.15" y1="177.90" x2="245.35" y2="177.90" stroke="#231f20" stroke-width="1.1" />
<rect x="252.00" y="179.70" width="9.50" height="9.90" fill="#a3303f" stroke="#9a1c30" stroke-width="0.4"/>
<line x1="256.75" y1="178.80" x2="256.75" y2="180.90" stroke="#231f20" stroke-width="0.9" />
<line x1="254.15" y1="178.80" x2="259.35" y2="178.80" stroke="#231f20" stroke-width="1.1" />
<line x1="254.15" y1="180.90" x2="259.35" y2="180.90" stroke="#231f20" stroke-width="1.1" />
<line x1="207.20" y1="189.60" x2="266.70" y2="189.60" stroke="#231f20" stroke-width="1.1" />
<line x1="207.70" y1="189.60" x2="207.70" y2="192.60" stroke="#231f20" stroke-width="1.0" />
<line x1="221.70" y1="189.60" x2="221.70" y2="192.60" stroke="#231f20" stroke-width="1.0" />
<line x1="235.70" y1="189.60" x2="235.70" y2="192.60" stroke="#231f20" stroke-width="1.0" />
<line x1="249.70" y1="189.60" x2="249.70" y2="192.60" stroke="#231f20" stroke-width="1.0" />
<line x1="263.70" y1="189.60" x2="263.70" y2="192.60" stroke="#231f20" stroke-width="1.0" />
<text transform="translate(214.70,201.80) scale(0.9091,1)" font-size="7.81" text-anchor="middle" fill="#231f20" >D0</text>
<text transform="translate(228.70,201.80) scale(0.9091,1)" font-size="7.81" text-anchor="middle" fill="#231f20" >D2</text>
<text transform="translate(242.70,201.80) scale(0.9091,1)" font-size="7.81" text-anchor="middle" fill="#231f20" >D4</text>
<text transform="translate(256.70,201.80) scale(0.9091,1)" font-size="7.81" text-anchor="middle" fill="#231f20" >D6</text>
<text transform="translate(315.80,124.80) scale(0.9091,1)" font-size="7.92" text-anchor="middle" fill="#231f20" >RUNX1</text>
<line x1="287.45" y1="132.80" x2="287.45" y2="190.10" stroke="#231f20" stroke-width="1.0" />
<line x1="284.45" y1="135.60" x2="287.45" y2="135.60" stroke="#231f20" stroke-width="1.2" />
<text transform="translate(281.45,137.70) scale(0.9091,1)" font-size="7.70" text-anchor="end" fill="#231f20" >2.0</text>
<line x1="284.45" y1="149.10" x2="287.45" y2="149.10" stroke="#231f20" stroke-width="1.2" />
<text transform="translate(281.45,151.20) scale(0.9091,1)" font-size="7.70" text-anchor="end" fill="#231f20" >1.5</text>
<line x1="284.45" y1="162.60" x2="287.45" y2="162.60" stroke="#231f20" stroke-width="1.2" />
<text transform="translate(281.45,164.70) scale(0.9091,1)" font-size="7.70" text-anchor="end" fill="#231f20" >1.0</text>
<line x1="284.45" y1="176.10" x2="287.45" y2="176.10" stroke="#231f20" stroke-width="1.2" />
<text transform="translate(281.45,178.20) scale(0.9091,1)" font-size="7.70" text-anchor="end" fill="#231f20" >0.5</text>
<line x1="284.45" y1="189.60" x2="287.45" y2="189.60" stroke="#231f20" stroke-width="1.2" />
<text transform="translate(281.45,191.70) scale(0.9091,1)" font-size="7.70" text-anchor="end" fill="#231f20" >0.0</text>
<rect x="289.75" y="162.40" width="9.50" height="27.20" fill="#a3303f" stroke="#9a1c30" stroke-width="0.4"/>
<line x1="294.50" y1="159.40" x2="294.50" y2="166.40" stroke="#231f20" stroke-width="0.9" />
<line x1="291.90" y1="159.40" x2="297.10" y2="159.40" stroke="#231f20" stroke-width="1.1" />
<line x1="291.90" y1="166.40" x2="297.10" y2="166.40" stroke="#231f20" stroke-width="1.1" />
<rect x="303.52" y="166.40" width="9.50" height="23.20" fill="#a3303f" stroke="#9a1c30" stroke-width="0.4"/>
<line x1="308.27" y1="163.30" x2="308.27" y2="170.20" stroke="#231f20" stroke-width="0.9" />
<line x1="305.67" y1="163.30" x2="310.87" y2="163.30" stroke="#231f20" stroke-width="1.1" />
<line x1="305.67" y1="170.20" x2="310.87" y2="170.20" stroke="#231f20" stroke-width="1.1" />
<rect x="317.29" y="154.10" width="9.50" height="35.50" fill="#a3303f" stroke="#9a1c30" stroke-width="0.4"/>
<line x1="322.04" y1="149.40" x2="322.04" y2="157.70" stroke="#231f20" stroke-width="0.9" />
<line x1="319.44" y1="149.40" x2="324.64" y2="149.40" stroke="#231f20" stroke-width="1.1" />
<line x1="319.44" y1="157.70" x2="324.64" y2="157.70" stroke="#231f20" stroke-width="1.1" />
<rect x="331.06" y="164.10" width="9.50" height="25.50" fill="#a3303f" stroke="#9a1c30" stroke-width="0.4"/>
<line x1="335.81" y1="163.30" x2="335.81" y2="165.00" stroke="#231f20" stroke-width="0.9" />
<line x1="333.21" y1="163.30" x2="338.41" y2="163.30" stroke="#231f20" stroke-width="1.1" />
<line x1="333.21" y1="165.00" x2="338.41" y2="165.00" stroke="#231f20" stroke-width="1.1" />
<line x1="286.95" y1="189.60" x2="345.53" y2="189.60" stroke="#231f20" stroke-width="1.1" />
<line x1="287.45" y1="189.60" x2="287.45" y2="192.60" stroke="#231f20" stroke-width="1.0" />
<line x1="301.22" y1="189.60" x2="301.22" y2="192.60" stroke="#231f20" stroke-width="1.0" />
<line x1="314.99" y1="189.60" x2="314.99" y2="192.60" stroke="#231f20" stroke-width="1.0" />
<line x1="328.76" y1="189.60" x2="328.76" y2="192.60" stroke="#231f20" stroke-width="1.0" />
<line x1="342.53" y1="189.60" x2="342.53" y2="192.60" stroke="#231f20" stroke-width="1.0" />
<text transform="translate(294.45,201.80) scale(0.9091,1)" font-size="7.81" text-anchor="middle" fill="#231f20" >D0</text>
<text transform="translate(308.22,201.80) scale(0.9091,1)" font-size="7.81" text-anchor="middle" fill="#231f20" >D2</text>
<text transform="translate(321.99,201.80) scale(0.9091,1)" font-size="7.81" text-anchor="middle" fill="#231f20" >D4</text>
<text transform="translate(335.76,201.80) scale(0.9091,1)" font-size="7.81" text-anchor="middle" fill="#231f20" >D6</text>
<text transform="translate(403.40,124.80) scale(0.9091,1)" font-size="7.92" text-anchor="middle" fill="#231f20" >MEIS1</text>
<line x1="373.75" y1="132.20" x2="373.75" y2="190.10" stroke="#231f20" stroke-width="1.0" />
<line x1="370.75" y1="135.00" x2="373.75" y2="135.00" stroke="#231f20" stroke-width="1.2" />
<text transform="translate(367.75,137.10) scale(0.9091,1)" font-size="7.70" text-anchor="end" fill="#231f20" >1.5</text>
<line x1="370.75" y1="153.20" x2="373.75" y2="153.20" stroke="#231f20" stroke-width="1.2" />
<text transform="translate(367.75,155.30) scale(0.9091,1)" font-size="7.70" text-anchor="end" fill="#231f20" >1.0</text>
<line x1="370.75" y1="171.40" x2="373.75" y2="171.40" stroke="#231f20" stroke-width="1.2" />
<text transform="translate(367.75,173.50) scale(0.9091,1)" font-size="7.70" text-anchor="end" fill="#231f20" >0.5</text>
<line x1="370.75" y1="189.60" x2="373.75" y2="189.60" stroke="#231f20" stroke-width="1.2" />
<text transform="translate(367.75,191.70) scale(0.9091,1)" font-size="7.70" text-anchor="end" fill="#231f20" >0.0</text>
<rect x="376.05" y="152.90" width="9.50" height="36.70" fill="#a3303f" stroke="#9a1c30" stroke-width="0.4"/>
<line x1="380.80" y1="147.30" x2="380.80" y2="159.40" stroke="#231f20" stroke-width="0.9" />
<line x1="378.20" y1="147.30" x2="383.40" y2="147.30" stroke="#231f20" stroke-width="1.1" />
<line x1="378.20" y1="159.40" x2="383.40" y2="159.40" stroke="#231f20" stroke-width="1.1" />
<rect x="390.25" y="175.00" width="9.50" height="14.60" fill="#a3303f" stroke="#9a1c30" stroke-width="0.4"/>
<line x1="395.00" y1="172.40" x2="395.00" y2="177.40" stroke="#231f20" stroke-width="0.9" />
<line x1="392.40" y1="172.40" x2="397.60" y2="172.40" stroke="#231f20" stroke-width="1.1" />
<line x1="392.40" y1="177.40" x2="397.60" y2="177.40" stroke="#231f20" stroke-width="1.1" />
<rect x="404.45" y="157.20" width="9.50" height="32.40" fill="#a3303f" stroke="#9a1c30" stroke-width="0.4"/>
<line x1="409.20" y1="156.30" x2="409.20" y2="158.40" stroke="#231f20" stroke-width="0.9" />
<line x1="406.60" y1="156.30" x2="411.80" y2="156.30" stroke="#231f20" stroke-width="1.1" />
<line x1="406.60" y1="158.40" x2="411.80" y2="158.40" stroke="#231f20" stroke-width="1.1" />
<rect x="418.65" y="175.00" width="9.50" height="14.60" fill="#a3303f" stroke="#9a1c30" stroke-width="0.4"/>
<line x1="423.40" y1="172.40" x2="423.40" y2="177.20" stroke="#231f20" stroke-width="0.9" />
<line x1="420.80" y1="172.40" x2="426.00" y2="172.40" stroke="#231f20" stroke-width="1.1" />
<line x1="420.80" y1="177.20" x2="426.00" y2="177.20" stroke="#231f20" stroke-width="1.1" />
<line x1="373.25" y1="189.60" x2="433.55" y2="189.60" stroke="#231f20" stroke-width="1.1" />
<line x1="373.75" y1="189.60" x2="373.75" y2="192.60" stroke="#231f20" stroke-width="1.0" />
<line x1="387.95" y1="189.60" x2="387.95" y2="192.60" stroke="#231f20" stroke-width="1.0" />
<line x1="402.15" y1="189.60" x2="402.15" y2="192.60" stroke="#231f20" stroke-width="1.0" />
<line x1="416.35" y1="189.60" x2="416.35" y2="192.60" stroke="#231f20" stroke-width="1.0" />
<line x1="430.55" y1="189.60" x2="430.55" y2="192.60" stroke="#231f20" stroke-width="1.0" />
<text transform="translate(380.75,201.80) scale(0.9091,1)" font-size="7.81" text-anchor="middle" fill="#231f20" >D0</text>
<text transform="translate(394.95,201.80) scale(0.9091,1)" font-size="7.81" text-anchor="middle" fill="#231f20" >D2</text>
<text transform="translate(409.15,201.80) scale(0.9091,1)" font-size="7.81" text-anchor="middle" fill="#231f20" >D4</text>
<text transform="translate(423.35,201.80) scale(0.9091,1)" font-size="7.81" text-anchor="middle" fill="#231f20" >D6</text>
<text transform="translate(483.30,124.80) scale(0.9091,1)" font-size="7.92" text-anchor="middle" fill="#231f20" >GATA1</text>
<line x1="453.70" y1="131.90" x2="453.70" y2="190.10" stroke="#231f20" stroke-width="1.0" />
<line x1="450.70" y1="134.70" x2="453.70" y2="134.70" stroke="#231f20" stroke-width="1.2" />
<text transform="translate(447.70,136.80) scale(0.9091,1)" font-size="7.70" text-anchor="end" fill="#231f20" >5.0</text>
<line x1="450.70" y1="145.68" x2="453.70" y2="145.68" stroke="#231f20" stroke-width="1.2" />
<text transform="translate(447.70,147.78) scale(0.9091,1)" font-size="7.70" text-anchor="end" fill="#231f20" >4.0</text>
<line x1="450.70" y1="156.66" x2="453.70" y2="156.66" stroke="#231f20" stroke-width="1.2" />
<text transform="translate(447.70,158.76) scale(0.9091,1)" font-size="7.70" text-anchor="end" fill="#231f20" >3.0</text>
<line x1="450.70" y1="167.64" x2="453.70" y2="167.64" stroke="#231f20" stroke-width="1.2" />
<text transform="translate(447.70,169.74) scale(0.9091,1)" font-size="7.70" text-anchor="end" fill="#231f20" >2.0</text>
<line x1="450.70" y1="178.62" x2="453.70" y2="178.62" stroke="#231f20" stroke-width="1.2" />
<text transform="translate(447.70,180.72) scale(0.9091,1)" font-size="7.70" text-anchor="end" fill="#231f20" >1.0</text>
<line x1="450.70" y1="189.60" x2="453.70" y2="189.60" stroke="#231f20" stroke-width="1.2" />
<text transform="translate(447.70,191.70) scale(0.9091,1)" font-size="7.70" text-anchor="end" fill="#231f20" >0.0</text>
<text transform="translate(454.90,187.70) scale(0.9091,1)" font-size="7.70" text-anchor="start" fill="#231f20" >ND</text>
<text transform="translate(468.90,187.70) scale(0.9091,1)" font-size="7.70" text-anchor="start" fill="#231f20" >ND</text>
<text transform="translate(482.90,187.70) scale(0.9091,1)" font-size="7.70" text-anchor="start" fill="#231f20" >ND</text>
<text transform="translate(496.90,187.70) scale(0.9091,1)" font-size="7.70" text-anchor="start" fill="#231f20" >ND</text>
<line x1="453.20" y1="189.60" x2="512.70" y2="189.60" stroke="#231f20" stroke-width="1.1" />
<line x1="453.70" y1="189.60" x2="453.70" y2="192.60" stroke="#231f20" stroke-width="1.0" />
<line x1="467.70" y1="189.60" x2="467.70" y2="192.60" stroke="#231f20" stroke-width="1.0" />
<line x1="481.70" y1="189.60" x2="481.70" y2="192.60" stroke="#231f20" stroke-width="1.0" />
<line x1="495.70" y1="189.60" x2="495.70" y2="192.60" stroke="#231f20" stroke-width="1.0" />
<line x1="509.70" y1="189.60" x2="509.70" y2="192.60" stroke="#231f20" stroke-width="1.0" />
<text transform="translate(460.70,201.80) scale(0.9091,1)" font-size="7.81" text-anchor="middle" fill="#231f20" >D0</text>
<text transform="translate(474.70,201.80) scale(0.9091,1)" font-size="7.81" text-anchor="middle" fill="#231f20" >D2</text>
<text transform="translate(488.70,201.80) scale(0.9091,1)" font-size="7.81" text-anchor="middle" fill="#231f20" >D4</text>
<text transform="translate(502.70,201.80) scale(0.9091,1)" font-size="7.81" text-anchor="middle" fill="#231f20" >D6</text>
<text transform="translate(15.30,98.60) rotate(-90)" font-size="8.50" text-anchor="start" fill="#231f20" textLength="83.2" lengthAdjust="spacingAndGlyphs">Relative mRNA levels</text>
<text transform="translate(15.00,196.00) rotate(-90)" font-size="8.40" text-anchor="start" fill="#231f20" textLength="81.9" lengthAdjust="spacingAndGlyphs">Relative mRNA levels</text>
<text transform="translate(10.60,15.00) scale(0.9091,1)" font-size="9.46" text-anchor="start" fill="#231f20" >A</text>
<text transform="translate(27.60,223.30) scale(0.9091,1)" font-size="11.00" text-anchor="start" fill="#231f20" >B</text>
<line x1="47.10" y1="236.30" x2="47.10" y2="326.20" stroke="#231f20" stroke-width="1.0" />
<line x1="44.10" y1="238.10" x2="47.10" y2="238.10" stroke="#231f20" stroke-width="1.0" />
<text transform="translate(42.20,240.70) scale(0.9091,1)" font-size="8.14" text-anchor="end" fill="#231f20" >4500</text>
<line x1="44.10" y1="247.83" x2="47.10" y2="247.83" stroke="#231f20" stroke-width="1.0" />
<text transform="translate(42.20,250.43) scale(0.9091,1)" font-size="8.14" text-anchor="end" fill="#231f20" >4000</text>
<line x1="44.10" y1="257.57" x2="47.10" y2="257.57" stroke="#231f20" stroke-width="1.0" />
<text transform="translate(42.20,260.17) scale(0.9091,1)" font-size="8.14" text-anchor="end" fill="#231f20" >3500</text>
<line x1="44.10" y1="267.30" x2="47.10" y2="267.30" stroke="#231f20" stroke-width="1.0" />
<text transform="translate(42.20,269.90) scale(0.9091,1)" font-size="8.14" text-anchor="end" fill="#231f20" >3000</text>
<line x1="44.10" y1="277.03" x2="47.10" y2="277.03" stroke="#231f20" stroke-width="1.0" />
<text transform="translate(42.20,279.63) scale(0.9091,1)" font-size="8.14" text-anchor="end" fill="#231f20" >2500</text>
<line x1="44.10" y1="286.77" x2="47.10" y2="286.77" stroke="#231f20" stroke-width="1.0" />
<text transform="translate(42.20,289.37) scale(0.9091,1)" font-size="8.14" text-anchor="end" fill="#231f20" >2000</text>
<line x1="44.10" y1="296.50" x2="47.10" y2="296.50" stroke="#231f20" stroke-width="1.0" />
<text transform="translate(42.20,299.10) scale(0.9091,1)" font-size="8.14" text-anchor="end" fill="#231f20" >1500</text>
<line x1="44.10" y1="306.23" x2="47.10" y2="306.23" stroke="#231f20" stroke-width="1.0" />
<text transform="translate(42.20,308.83) scale(0.9091,1)" font-size="8.14" text-anchor="end" fill="#231f20" >1000</text>
<line x1="44.10" y1="315.97" x2="47.10" y2="315.97" stroke="#231f20" stroke-width="1.0" />
<text transform="translate(42.20,318.57) scale(0.9091,1)" font-size="8.14" text-anchor="end" fill="#231f20" >500</text>
<line x1="44.10" y1="325.70" x2="47.10" y2="325.70" stroke="#231f20" stroke-width="1.0" />
<text transform="translate(42.20,328.30) scale(0.9091,1)" font-size="8.14" text-anchor="end" fill="#231f20" >0</text>
<rect x="52.40" y="249.10" width="16.50" height="76.60" fill="#bccca6" />
<text transform="translate(60.65,244.80) scale(0.9091,1)" font-size="7.92" text-anchor="middle" fill="#231f20" >3948</text>
<text transform="translate(60.65,336.40) scale(0.9091,1)" font-size="8.03" text-anchor="middle" fill="#231f20" >Total</text>
<rect x="78.50" y="278.10" width="16.20" height="47.60" fill="#9a9fc0" />
<text transform="translate(86.60,273.80) scale(0.9091,1)" font-size="7.92" text-anchor="middle" fill="#231f20" >2463</text>
<text transform="translate(86.60,336.40) scale(0.9091,1)" font-size="8.03" text-anchor="middle" fill="#231f20" >Up</text>
<rect x="104.70" y="296.90" width="15.90" height="28.80" fill="#cf9888" />
<text transform="translate(112.65,292.60) scale(0.9091,1)" font-size="7.92" text-anchor="middle" fill="#231f20" >1485</text>
<text transform="translate(112.65,336.40) scale(0.9091,1)" font-size="8.03" text-anchor="middle" fill="#231f20" >Down</text>
<line x1="46.60" y1="325.70" x2="125.80" y2="325.70" stroke="#231f20" stroke-width="1.1" />
<text transform="translate(23.00,348.20) scale(0.9091,1)" font-size="11.00" text-anchor="start" fill="#231f20" >C</text>
<rect x="26.50" y="399.60" width="9.26" height="9.17" fill="#d4e0ea" />
<rect x="35.36" y="399.60" width="9.26" height="9.17" fill="#cfdbe6" />
<rect x="44.22" y="399.60" width="9.26" height="9.17" fill="#ecb9b5" />
<rect x="53.08" y="399.60" width="9.26" height="9.17" fill="#e29a92" />
<rect x="61.94" y="399.60" width="9.26" height="9.17" fill="#de948c" />
<text transform="translate(73.80,405.60) scale(0.9091,1)" font-size="7.70" text-anchor="start" fill="#231f20" >CD36</text>
<rect x="26.50" y="408.37" width="9.26" height="9.17" fill="#a8c4e0" />
<rect x="35.36" y="408.37" width="9.26" height="9.17" fill="#82acd4" />
<rect x="44.22" y="408.37" width="9.26" height="9.17" fill="#86b0d8" />
<rect x="53.08" y="408.37" width="9.26" height="9.17" fill="#f0c4c0" />
<rect x="61.94" y="408.37" width="9.26" height="9.17" fill="#ecbcb6" />
<text transform="translate(73.80,414.37) scale(0.9091,1)" font-size="7.70" text-anchor="start" fill="#231f20" >GATA1</text>
<rect x="26.50" y="417.14" width="9.26" height="9.17" fill="#c84e3c" />
<rect x="35.36" y="417.14" width="9.26" height="9.17" fill="#ca5440" />
<rect x="44.22" y="417.14" width="9.26" height="9.17" fill="#cc5640" />
<rect x="53.08" y="417.14" width="9.26" height="9.17" fill="#d06454" />
<rect x="61.94" y="417.14" width="9.26" height="9.17" fill="#d26a5a" />
<text transform="translate(73.80,423.14) scale(0.9091,1)" font-size="7.70" text-anchor="start" fill="#231f20" >ITGB1</text>
<rect x="26.50" y="425.91" width="9.26" height="9.17" fill="#80acd8" />
<rect x="35.36" y="425.91" width="9.26" height="9.17" fill="#8ab2da" />
<rect x="44.22" y="425.91" width="9.26" height="9.17" fill="#b4cce2" />
<rect x="53.08" y="425.91" width="9.26" height="9.17" fill="#fbf8f6" />
<rect x="61.94" y="425.91" width="9.26" height="9.17" fill="#f6ece8" />
<text transform="translate(73.80,431.91) scale(0.9091,1)" font-size="7.70" text-anchor="start" fill="#231f20" >ITGB3</text>
<rect x="26.50" y="434.68" width="9.26" height="9.17" fill="#f4f4f4" />
<rect x="35.36" y="434.68" width="9.26" height="9.17" fill="#fcfcfa" />
<rect x="44.22" y="434.68" width="9.26" height="9.17" fill="#eef0f2" />
<rect x="53.08" y="434.68" width="9.26" height="9.17" fill="#e6eaf0" />
<rect x="61.94" y="434.68" width="9.26" height="9.17" fill="#bcd0e4" />
<text transform="translate(73.80,440.68) scale(0.9091,1)" font-size="7.70" text-anchor="start" fill="#231f20" >LAMP1</text>
<rect x="26.50" y="443.45" width="9.26" height="9.17" fill="#ecb8b4" />
<rect x="35.36" y="443.45" width="9.26" height="9.17" fill="#ecb4b0" />
<rect x="44.22" y="443.45" width="9.26" height="9.17" fill="#d87c70" />
<rect x="53.08" y="443.45" width="9.26" height="9.17" fill="#f4d0cc" />
<rect x="61.94" y="443.45" width="9.26" height="9.17" fill="#f4d4d0" />
<text transform="translate(73.80,449.45) scale(0.9091,1)" font-size="7.70" text-anchor="start" fill="#231f20" >LAMP2</text>
<rect x="26.50" y="452.22" width="9.26" height="9.17" fill="#f2d6d4" />
<rect x="35.36" y="452.22" width="9.26" height="9.17" fill="#f0ccc8" />
<rect x="44.22" y="452.22" width="9.26" height="9.17" fill="#f4dcdc" />
<rect x="53.08" y="452.22" width="9.26" height="9.17" fill="#e09c94" />
<rect x="61.94" y="452.22" width="9.26" height="9.17" fill="#e4a49e" />
<text transform="translate(73.80,458.22) scale(0.9091,1)" font-size="7.70" text-anchor="start" fill="#231f20" >RUNX1</text>
<rect x="26.50" y="460.99" width="9.26" height="9.17" fill="#eeeeee" />
<rect x="35.36" y="460.99" width="9.26" height="9.17" fill="#e4e8ee" />
<rect x="44.22" y="460.99" width="9.26" height="9.17" fill="#eef0f2" />
<rect x="53.08" y="460.99" width="9.26" height="9.17" fill="#e6a098" />
<rect x="61.94" y="460.99" width="9.26" height="9.17" fill="#eab0aa" />
<text transform="translate(73.80,466.99) scale(0.9091,1)" font-size="7.70" text-anchor="start" fill="#231f20" >PBX1</text>
<rect x="26.50" y="469.76" width="9.26" height="9.17" fill="#ecbab4" />
<rect x="35.36" y="469.76" width="9.26" height="9.17" fill="#ecbcb6" />
<rect x="44.22" y="469.76" width="9.26" height="9.17" fill="#d88074" />
<rect x="53.08" y="469.76" width="9.26" height="9.17" fill="#d6786a" />
<rect x="61.94" y="469.76" width="9.26" height="9.17" fill="#da8276" />
<text transform="translate(73.80,475.76) scale(0.9091,1)" font-size="7.70" text-anchor="start" fill="#231f20" >CD9</text>
<rect x="26.50" y="478.53" width="9.26" height="9.17" fill="#e0968e" />
<rect x="35.36" y="478.53" width="9.26" height="9.17" fill="#e09890" />
<rect x="44.22" y="478.53" width="9.26" height="9.17" fill="#da8478" />
<rect x="53.08" y="478.53" width="9.26" height="9.17" fill="#cc5844" />
<rect x="61.94" y="478.53" width="9.26" height="9.17" fill="#c85240" />
<text transform="translate(73.80,484.53) scale(0.9091,1)" font-size="7.70" text-anchor="start" fill="#231f20" >RAB27B</text>
<rect x="26.50" y="487.30" width="9.26" height="9.17" fill="#d4786a" />
<rect x="35.36" y="487.30" width="9.26" height="9.17" fill="#d47a6c" />
<rect x="44.22" y="487.30" width="9.26" height="9.17" fill="#d88478" />
<rect x="53.08" y="487.30" width="9.26" height="9.17" fill="#dc8e84" />
<rect x="61.94" y="487.30" width="9.26" height="9.17" fill="#e09a90" />
<text transform="translate(73.80,493.30) scale(0.9091,1)" font-size="7.70" text-anchor="start" fill="#231f20" >SERPINE2</text>
<rect x="26.50" y="496.07" width="9.26" height="9.17" fill="#d4766a" />
<rect x="35.36" y="496.07" width="9.26" height="9.17" fill="#d47868" />
<rect x="44.22" y="496.07" width="9.26" height="9.17" fill="#d67c6e" />
<rect x="53.08" y="496.07" width="9.26" height="9.17" fill="#f0c4c0" />
<rect x="61.94" y="496.07" width="9.26" height="9.17" fill="#f0c8c2" />
<text transform="translate(73.80,502.07) scale(0.9091,1)" font-size="7.70" text-anchor="start" fill="#231f20" >CD109</text>
<rect x="26.50" y="504.84" width="9.26" height="9.17" fill="#ecb8b4" />
<rect x="35.36" y="504.84" width="9.26" height="9.17" fill="#eab8b2" />
<rect x="44.22" y="504.84" width="9.26" height="9.17" fill="#ecbab6" />
<rect x="53.08" y="504.84" width="9.26" height="9.17" fill="#c8d8e8" />
<rect x="61.94" y="504.84" width="9.26" height="9.17" fill="#a4c0e0" />
<text transform="translate(73.80,510.84) scale(0.9091,1)" font-size="7.70" text-anchor="start" fill="#231f20" >CD44</text>
<rect x="26.50" y="513.61" width="9.26" height="9.17" fill="#d47460" />
<rect x="35.36" y="513.61" width="9.26" height="9.17" fill="#d47662" />
<rect x="44.22" y="513.61" width="9.26" height="9.17" fill="#d47262" />
<rect x="53.08" y="513.61" width="9.26" height="9.17" fill="#f6dcdc" />
<rect x="61.94" y="513.61" width="9.26" height="9.17" fill="#f0c8c4" />
<text transform="translate(73.80,519.61) scale(0.9091,1)" font-size="7.70" text-anchor="start" fill="#231f20" >ANPEP</text>
<rect x="26.50" y="522.38" width="9.26" height="9.17" fill="#f6ece8" />
<rect x="35.36" y="522.38" width="9.26" height="9.17" fill="#f8f2ee" />
<rect x="44.22" y="522.38" width="9.26" height="9.17" fill="#f0ccc8" />
<rect x="53.08" y="522.38" width="9.26" height="9.17" fill="#e4e8ee" />
<rect x="61.94" y="522.38" width="9.26" height="9.17" fill="#fcfcfc" />
<text transform="translate(73.80,528.38) scale(0.9091,1)" font-size="7.70" text-anchor="start" fill="#231f20" >ENG</text>
<rect x="26.50" y="531.15" width="9.26" height="9.17" fill="#f0c8c4" />
<rect x="35.36" y="531.15" width="9.26" height="9.17" fill="#f0cecc" />
<rect x="44.22" y="531.15" width="9.26" height="9.17" fill="#d87c6e" />
<rect x="53.08" y="531.15" width="9.26" height="9.17" fill="#3a8acb" />
<rect x="61.94" y="531.15" width="9.26" height="9.17" fill="#1e7ab8" />
<text transform="translate(73.80,537.15) scale(0.9091,1)" font-size="7.70" text-anchor="start" fill="#231f20" >NT5E</text>
<rect x="26.50" y="539.92" width="9.26" height="9.17" fill="#f4d8d8" />
<rect x="35.36" y="539.92" width="9.26" height="9.17" fill="#f4dcdc" />
<rect x="44.22" y="539.92" width="9.26" height="9.17" fill="#ecb8b2" />
<rect x="53.08" y="539.92" width="9.26" height="9.17" fill="#74a6d4" />
<rect x="61.94" y="539.92" width="9.26" height="9.17" fill="#70a4d2" />
<text transform="translate(73.80,545.92) scale(0.9091,1)" font-size="7.70" text-anchor="start" fill="#231f20" >THY1</text>
<rect x="26.50" y="548.69" width="9.26" height="9.17" fill="#f6f6f4" />
<rect x="35.36" y="548.69" width="9.26" height="9.17" fill="#f4f4f2" />
<rect x="44.22" y="548.69" width="9.26" height="9.17" fill="#94b6dc" />
<rect x="53.08" y="548.69" width="9.26" height="9.17" fill="#3c8ccc" />
<rect x="61.94" y="548.69" width="9.26" height="9.17" fill="#6aa0d0" />
<text transform="translate(73.80,554.69) scale(0.9091,1)" font-size="7.70" text-anchor="start" fill="#231f20" >VCAM1</text>
<rect x="26.50" y="557.46" width="9.26" height="9.17" fill="#d87a6c" />
<rect x="35.36" y="557.46" width="9.26" height="9.17" fill="#d87c6e" />
<rect x="44.22" y="557.46" width="9.26" height="9.17" fill="#f4d8d4" />
<rect x="53.08" y="557.46" width="9.26" height="9.17" fill="#3c8acc" />
<rect x="61.94" y="557.46" width="9.26" height="9.17" fill="#2a82c4" />
<text transform="translate(73.80,563.46) scale(0.9091,1)" font-size="7.70" text-anchor="start" fill="#231f20" >LIF</text>
<rect x="26.50" y="566.23" width="9.26" height="9.17" fill="#dce4ee" />
<rect x="35.36" y="566.23" width="9.26" height="9.17" fill="#dae2ec" />
<rect x="44.22" y="566.23" width="9.26" height="9.17" fill="#8cb2da" />
<rect x="53.08" y="566.23" width="9.26" height="9.17" fill="#8cb2da" />
<rect x="61.94" y="566.23" width="9.26" height="9.17" fill="#a4c2e2" />
<text transform="translate(73.80,572.23) scale(0.9091,1)" font-size="7.70" text-anchor="start" fill="#231f20" >POU5F1</text>
<rect x="26.50" y="575.00" width="9.26" height="9.17" fill="#b8cde6" />
<rect x="35.36" y="575.00" width="9.26" height="9.17" fill="#b8cde6" />
<rect x="44.22" y="575.00" width="9.26" height="9.17" fill="#3a8acc" />
<rect x="53.08" y="575.00" width="9.26" height="9.17" fill="#6ca2d2" />
<rect x="61.94" y="575.00" width="9.26" height="9.17" fill="#8cb4da" />
<text transform="translate(73.80,581.00) scale(0.9091,1)" font-size="7.70" text-anchor="start" fill="#231f20" >SOX2</text>
<rect x="26.50" y="583.77" width="9.26" height="9.17" fill="#b8cde6" />
<rect x="35.36" y="583.77" width="9.26" height="9.17" fill="#b8cde6" />
<rect x="44.22" y="583.77" width="9.26" height="9.17" fill="#1c7abc" />
<rect x="53.08" y="583.77" width="9.26" height="9.17" fill="#1e7cbe" />
<rect x="61.94" y="583.77" width="9.26" height="9.17" fill="#2080c0" />
<text transform="translate(73.80,589.77) scale(0.9091,1)" font-size="7.70" text-anchor="start" fill="#231f20" >FABP4</text>
<rect x="26.50" y="592.54" width="9.26" height="9.17" fill="#b4cce4" />
<rect x="35.36" y="592.54" width="9.26" height="9.17" fill="#cad8e8" />
<rect x="44.22" y="592.54" width="9.26" height="9.17" fill="#fcfcfc" />
<rect x="53.08" y="592.54" width="9.26" height="9.17" fill="#1c7cbc" />
<rect x="61.94" y="592.54" width="9.26" height="9.17" fill="#2680c2" />
<text transform="translate(73.80,598.54) scale(0.9091,1)" font-size="7.70" text-anchor="start" fill="#231f20" >PPARG</text>
<rect x="26.50" y="601.31" width="9.26" height="9.17" fill="#98bae0" />
<rect x="35.36" y="601.31" width="9.26" height="9.17" fill="#c4d6ea" />
<rect x="44.22" y="601.31" width="9.26" height="9.17" fill="#9cbcdf" />
<rect x="53.08" y="601.31" width="9.26" height="9.17" fill="#d8e2ee" />
<rect x="61.94" y="601.31" width="9.26" height="9.17" fill="#b8cee6" />
<text transform="translate(73.80,607.31) scale(0.9091,1)" font-size="7.70" text-anchor="start" fill="#231f20" >TGFB1</text>
<rect x="26.50" y="610.08" width="9.26" height="9.17" fill="#c4d6ea" />
<rect x="35.36" y="610.08" width="9.26" height="9.17" fill="#ececf0" />
<rect x="44.22" y="610.08" width="9.26" height="9.17" fill="#bcd0e8" />
<rect x="53.08" y="610.08" width="9.26" height="9.17" fill="#aec8e6" />
<rect x="61.94" y="610.08" width="9.26" height="9.17" fill="#a8c4e4" />
<text transform="translate(73.80,616.08) scale(0.9091,1)" font-size="7.70" text-anchor="start" fill="#231f20" >BMP6</text>
<rect x="26.50" y="618.85" width="9.26" height="9.17" fill="#5894cc" />
<rect x="35.36" y="618.85" width="9.26" height="9.17" fill="#88b0da" />
<rect x="44.22" y="618.85" width="9.26" height="9.17" fill="#5c96ce" />
<rect x="53.08" y="618.85" width="9.26" height="9.17" fill="#78a6d4" />
<rect x="61.94" y="618.85" width="9.26" height="9.17" fill="#3a88c8" />
<text transform="translate(73.80,624.85) scale(0.9091,1)" font-size="7.70" text-anchor="start" fill="#231f20" >RUNX2</text>
<line x1="26.50" y1="399.60" x2="26.50" y2="627.62" stroke="#2a2a2a" stroke-width="0.9" />
<line x1="35.36" y1="399.60" x2="35.36" y2="627.62" stroke="#2a2a2a" stroke-width="0.9" />
<line x1="44.22" y1="399.60" x2="44.22" y2="627.62" stroke="#2a2a2a" stroke-width="0.9" />
<line x1="53.08" y1="399.60" x2="53.08" y2="627.62" stroke="#2a2a2a" stroke-width="0.9" />
<line x1="61.94" y1="399.60" x2="61.94" y2="627.62" stroke="#2a2a2a" stroke-width="0.9" />
<line x1="70.80" y1="399.60" x2="70.80" y2="627.62" stroke="#2a2a2a" stroke-width="0.9" />
<line x1="26.50" y1="399.60" x2="70.80" y2="399.60" stroke="#2a2a2a" stroke-width="0.9" />
<line x1="26.50" y1="408.37" x2="70.80" y2="408.37" stroke="#2a2a2a" stroke-width="0.9" />
<line x1="26.50" y1="417.14" x2="70.80" y2="417.14" stroke="#2a2a2a" stroke-width="0.9" />
<line x1="26.50" y1="425.91" x2="70.80" y2="425.91" stroke="#2a2a2a" stroke-width="0.9" />
<line x1="26.50" y1="434.68" x2="70.80" y2="434.68" stroke="#2a2a2a" stroke-width="0.9" />
<line x1="26.50" y1="443.45" x2="70.80" y2="443.45" stroke="#2a2a2a" stroke-width="0.9" />
<line x1="26.50" y1="452.22" x2="70.80" y2="452.22" stroke="#2a2a2a" stroke-width="0.9" />
<line x1="26.50" y1="460.99" x2="70.80" y2="460.99" stroke="#2a2a2a" stroke-width="0.9" />
<line x1="26.50" y1="469.76" x2="70.80" y2="469.76" stroke="#2a2a2a" stroke-width="0.9" />
<line x1="26.50" y1="478.53" x2="70.80" y2="478.53" stroke="#2a2a2a" stroke-width="0.9" />
<line x1="26.50" y1="487.30" x2="70.80" y2="487.30" stroke="#2a2a2a" stroke-width="0.9" />
<line x1="26.50" y1="496.07" x2="70.80" y2="496.07" stroke="#2a2a2a" stroke-width="0.9" />
<line x1="26.50" y1="504.84" x2="70.80" y2="504.84" stroke="#2a2a2a" stroke-width="0.9" />
<line x1="26.50" y1="513.61" x2="70.80" y2="513.61" stroke="#2a2a2a" stroke-width="0.9" />
<line x1="26.50" y1="522.38" x2="70.80" y2="522.38" stroke="#2a2a2a" stroke-width="0.9" />
<line x1="26.50" y1="531.15" x2="70.80" y2="531.15" stroke="#2a2a2a" stroke-width="0.9" />
<line x1="26.50" y1="539.92" x2="70.80" y2="539.92" stroke="#2a2a2a" stroke-width="0.9" />
<line x1="26.50" y1="548.69" x2="70.80" y2="548.69" stroke="#2a2a2a" stroke-width="0.9" />
<line x1="26.50" y1="557.46" x2="70.80" y2="557.46" stroke="#2a2a2a" stroke-width="0.9" />
<line x1="26.50" y1="566.23" x2="70.80" y2="566.23" stroke="#2a2a2a" stroke-width="0.9" />
<line x1="26.50" y1="575.00" x2="70.80" y2="575.00" stroke="#2a2a2a" stroke-width="0.9" />
<line x1="26.50" y1="592.54" x2="70.80" y2="592.54" stroke="#2a2a2a" stroke-width="0.9" />
<line x1="26.50" y1="601.31" x2="70.80" y2="601.31" stroke="#2a2a2a" stroke-width="0.9" />
<line x1="26.50" y1="610.08" x2="70.80" y2="610.08" stroke="#2a2a2a" stroke-width="0.9" />
<line x1="26.50" y1="618.85" x2="70.80" y2="618.85" stroke="#2a2a2a" stroke-width="0.9" />
<line x1="26.50" y1="627.62" x2="70.80" y2="627.62" stroke="#2a2a2a" stroke-width="0.9" />
<text transform="translate(34.40,395.80) rotate(-90)" font-size="7.80" text-anchor="start" fill="#231f20" textLength="36.2" lengthAdjust="spacingAndGlyphs">ASCL-MK#1</text>
<text transform="translate(42.70,395.80) rotate(-90)" font-size="7.80" text-anchor="start" fill="#231f20" textLength="36.2" lengthAdjust="spacingAndGlyphs">ASCL-MK#2</text>
<text transform="translate(51.40,395.80) rotate(-90)" font-size="7.80" text-anchor="start" fill="#231f20" textLength="36.2" lengthAdjust="spacingAndGlyphs">ASCL-MK#3</text>
<text transform="translate(61.10,395.80) rotate(-90)" font-size="7.80" text-anchor="start" fill="#231f20" textLength="28.8" lengthAdjust="spacingAndGlyphs">CB-MK#1</text>
<text transform="translate(67.60,395.80) rotate(-90)" font-size="7.80" text-anchor="start" fill="#231f20" textLength="28.8" lengthAdjust="spacingAndGlyphs">CB-MK#2</text>
<line x1="112.80" y1="398.80" x2="112.80" y2="504.10" stroke="#6d6e71" stroke-width="1.2" />
<line x1="109.00" y1="398.80" x2="116.60" y2="398.80" stroke="#6d6e71" stroke-width="1.2" />
<line x1="109.00" y1="504.10" x2="116.60" y2="504.10" stroke="#6d6e71" stroke-width="1.2" />
<line x1="112.80" y1="507.30" x2="112.80" y2="557.30" stroke="#6d6e71" stroke-width="1.2" />
<line x1="109.00" y1="507.30" x2="116.60" y2="507.30" stroke="#6d6e71" stroke-width="1.2" />
<line x1="109.00" y1="557.30" x2="116.60" y2="557.30" stroke="#6d6e71" stroke-width="1.2" />
<line x1="112.80" y1="559.80" x2="112.80" y2="582.90" stroke="#333" stroke-width="0.8" />
<line x1="109.00" y1="559.80" x2="116.60" y2="559.80" stroke="#6d6e71" stroke-width="1.2" />
<line x1="109.00" y1="582.90" x2="116.60" y2="582.90" stroke="#6d6e71" stroke-width="1.2" />
<line x1="112.80" y1="585.50" x2="112.80" y2="626.40" stroke="#6d6e71" stroke-width="1.2" />
<line x1="109.00" y1="585.50" x2="116.60" y2="585.50" stroke="#6d6e71" stroke-width="1.2" />
<line x1="109.00" y1="626.40" x2="116.60" y2="626.40" stroke="#6d6e71" stroke-width="1.2" />
<text transform="translate(125.00,451.00) rotate(-90) scale(0.9091,1)" font-size="7.70" text-anchor="middle" fill="#231f20" >Meg</text>
<text transform="translate(125.00,532.60) rotate(-90) scale(0.9091,1)" font-size="7.70" text-anchor="middle" fill="#231f20" >MSC</text>
<text transform="translate(125.00,573.00) rotate(-90) scale(0.9091,1)" font-size="7.70" text-anchor="middle" fill="#231f20" >Stemness</text>
<text transform="translate(124.90,624.70) rotate(-90)" font-size="7.60" text-anchor="start" fill="#231f20" textLength="23.1" lengthAdjust="spacingAndGlyphs">Adipo/</text>
<text transform="translate(134.30,624.70) rotate(-90)" font-size="7.60" text-anchor="start" fill="#231f20" textLength="32.7" lengthAdjust="spacingAndGlyphs">Chondro/</text>
<text transform="translate(143.80,624.70) rotate(-90)" font-size="7.60" text-anchor="start" fill="#231f20" textLength="43.7" lengthAdjust="spacingAndGlyphs">Osteogenesis</text>
<text transform="translate(22.60,635.90) scale(0.9091,1)" font-size="8.36" text-anchor="start" fill="#231f20" >Low</text>
<text transform="translate(59.50,635.90) scale(0.9091,1)" font-size="8.36" text-anchor="start" fill="#231f20" >High</text>
<defs><linearGradient id="hmg" x1="0" x2="1" y1="0" y2="0"><stop offset="0" stop-color="#2a78c0"/><stop offset="0.25" stop-color="#80b0dc"/><stop offset="0.52" stop-color="#f8f8f8"/><stop offset="0.75" stop-color="#e8a49a"/><stop offset="1" stop-color="#bf3a2c"/></linearGradient></defs>
<rect x="29.80" y="638.80" width="38.20" height="9.60" fill="url(#hmg)" stroke="#231f20" stroke-width="0.8"/>
<text transform="translate(154.60,223.30) scale(0.9091,1)" font-size="11.00" text-anchor="start" fill="#231f20" >D</text>
<rect x="306.40" y="235.90" width="96.20" height="201.30" fill="#f4f3f2" />
<line x1="308.40" y1="239.20" x2="402.60" y2="239.20" stroke="#dcdadb" stroke-width="1.0" />
<line x1="304.90" y1="239.20" x2="307.90" y2="239.20" stroke="#333" stroke-width="0.9" />
<text transform="translate(302.20,241.80) scale(0.9091,1)" font-size="8.25" text-anchor="end" fill="#231f20" >system development</text>
<line x1="308.40" y1="250.35" x2="402.60" y2="250.35" stroke="#dcdadb" stroke-width="1.0" />
<line x1="304.90" y1="250.35" x2="307.90" y2="250.35" stroke="#333" stroke-width="0.9" />
<text transform="translate(302.20,252.95) scale(0.9091,1)" font-size="8.25" text-anchor="end" fill="#231f20" >regulation of signaling</text>
<line x1="308.40" y1="260.50" x2="402.60" y2="260.50" stroke="#dcdadb" stroke-width="1.0" />
<line x1="304.90" y1="260.50" x2="307.90" y2="260.50" stroke="#333" stroke-width="0.9" />
<text transform="translate(302.20,263.10) scale(0.9091,1)" font-size="8.25" text-anchor="end" fill="#231f20" >regulation of signal transduction</text>
<line x1="308.40" y1="270.40" x2="402.60" y2="270.40" stroke="#dcdadb" stroke-width="1.0" />
<line x1="304.90" y1="270.40" x2="307.90" y2="270.40" stroke="#333" stroke-width="0.9" />
<text transform="translate(302.20,273.00) scale(0.9091,1)" font-size="8.25" text-anchor="end" fill="#231f20" >regulation of cell motility</text>
<line x1="308.40" y1="280.60" x2="402.60" y2="280.60" stroke="#dcdadb" stroke-width="1.0" />
<line x1="304.90" y1="280.60" x2="307.90" y2="280.60" stroke="#333" stroke-width="0.9" />
<text transform="translate(302.20,283.20) scale(0.9091,1)" font-size="8.25" text-anchor="end" fill="#231f20" >regulation of cell communication</text>
<line x1="308.40" y1="290.50" x2="402.60" y2="290.50" stroke="#dcdadb" stroke-width="1.0" />
<line x1="304.90" y1="290.50" x2="307.90" y2="290.50" stroke="#333" stroke-width="0.9" />
<text transform="translate(302.20,293.10) scale(0.9091,1)" font-size="8.25" text-anchor="end" fill="#231f20" >plasma membrane bounded cell projection</text>
<line x1="308.40" y1="300.30" x2="402.60" y2="300.30" stroke="#dcdadb" stroke-width="1.0" />
<line x1="304.90" y1="300.30" x2="307.90" y2="300.30" stroke="#333" stroke-width="0.9" />
<text transform="translate(302.20,302.90) scale(0.9091,1)" font-size="8.25" text-anchor="end" fill="#231f20" >nuclear part</text>
<line x1="308.40" y1="310.20" x2="402.60" y2="310.20" stroke="#dcdadb" stroke-width="1.0" />
<line x1="304.90" y1="310.20" x2="307.90" y2="310.20" stroke="#333" stroke-width="0.9" />
<text transform="translate(302.20,312.80) scale(0.9091,1)" font-size="8.25" text-anchor="end" fill="#231f20" >nuclear lumen</text>
<line x1="308.40" y1="320.10" x2="402.60" y2="320.10" stroke="#dcdadb" stroke-width="1.0" />
<line x1="304.90" y1="320.10" x2="307.90" y2="320.10" stroke="#333" stroke-width="0.9" />
<text transform="translate(302.20,322.70) scale(0.9091,1)" font-size="8.25" text-anchor="end" fill="#231f20" >mitotic nuclear division</text>
<line x1="308.40" y1="330.00" x2="402.60" y2="330.00" stroke="#dcdadb" stroke-width="1.0" />
<line x1="304.90" y1="330.00" x2="307.90" y2="330.00" stroke="#333" stroke-width="0.9" />
<text transform="translate(302.20,332.60) scale(0.9091,1)" font-size="8.25" text-anchor="end" fill="#231f20" >mitotic cell cycle process</text>
<line x1="308.40" y1="340.40" x2="402.60" y2="340.40" stroke="#dcdadb" stroke-width="1.0" />
<line x1="304.90" y1="340.40" x2="307.90" y2="340.40" stroke="#333" stroke-width="0.9" />
<text transform="translate(302.20,343.00) scale(0.9091,1)" font-size="8.25" text-anchor="end" fill="#231f20" >mitotic cell cycle</text>
<line x1="308.40" y1="350.50" x2="402.60" y2="350.50" stroke="#dcdadb" stroke-width="1.0" />
<line x1="304.90" y1="350.50" x2="307.90" y2="350.50" stroke="#333" stroke-width="0.9" />
<text transform="translate(302.20,353.10) scale(0.9091,1)" font-size="8.25" text-anchor="end" fill="#231f20" >chromosome</text>
<line x1="308.40" y1="360.50" x2="402.60" y2="360.50" stroke="#dcdadb" stroke-width="1.0" />
<line x1="304.90" y1="360.50" x2="307.90" y2="360.50" stroke="#333" stroke-width="0.9" />
<text transform="translate(302.20,363.10) scale(0.9091,1)" font-size="8.25" text-anchor="end" fill="#231f20" >chromosomal part</text>
<line x1="308.40" y1="370.50" x2="402.60" y2="370.50" stroke="#dcdadb" stroke-width="1.0" />
<line x1="304.90" y1="370.50" x2="307.90" y2="370.50" stroke="#333" stroke-width="0.9" />
<text transform="translate(302.20,373.10) scale(0.9091,1)" font-size="8.25" text-anchor="end" fill="#231f20" >cell projection</text>
<line x1="308.40" y1="380.50" x2="402.60" y2="380.50" stroke="#dcdadb" stroke-width="1.0" />
<line x1="304.90" y1="380.50" x2="307.90" y2="380.50" stroke="#333" stroke-width="0.9" />
<text transform="translate(302.20,383.10) scale(0.9091,1)" font-size="8.25" text-anchor="end" fill="#231f20" >cell division</text>
<line x1="308.40" y1="390.40" x2="402.60" y2="390.40" stroke="#dcdadb" stroke-width="1.0" />
<line x1="304.90" y1="390.40" x2="307.90" y2="390.40" stroke="#333" stroke-width="0.9" />
<text transform="translate(302.20,393.00) scale(0.9091,1)" font-size="8.25" text-anchor="end" fill="#231f20" >cell cycle process</text>
<line x1="308.40" y1="400.50" x2="402.60" y2="400.50" stroke="#dcdadb" stroke-width="1.0" />
<line x1="304.90" y1="400.50" x2="307.90" y2="400.50" stroke="#333" stroke-width="0.9" />
<text transform="translate(302.20,403.10) scale(0.9091,1)" font-size="8.25" text-anchor="end" fill="#231f20" >cell cycle</text>
<line x1="308.40" y1="410.60" x2="402.60" y2="410.60" stroke="#dcdadb" stroke-width="1.0" />
<line x1="304.90" y1="410.60" x2="307.90" y2="410.60" stroke="#333" stroke-width="0.9" />
<text transform="translate(302.20,413.20) scale(0.9091,1)" font-size="8.25" text-anchor="end" fill="#231f20" >anchoring junction</text>
<line x1="308.40" y1="420.40" x2="402.60" y2="420.40" stroke="#dcdadb" stroke-width="1.0" />
<line x1="304.90" y1="420.40" x2="307.90" y2="420.40" stroke="#333" stroke-width="0.9" />
<text transform="translate(302.20,423.00) scale(0.9091,1)" font-size="8.25" text-anchor="end" fill="#231f20" >anatomical structure morphogenesis</text>
<line x1="308.40" y1="430.50" x2="402.60" y2="430.50" stroke="#dcdadb" stroke-width="1.0" />
<line x1="304.90" y1="430.50" x2="307.90" y2="430.50" stroke="#333" stroke-width="0.9" />
<text transform="translate(302.20,433.10) scale(0.9091,1)" font-size="8.25" text-anchor="end" fill="#231f20" >adherens junction</text>
<line x1="336.40" y1="235.90" x2="336.40" y2="437.20" stroke="#c9c8c8" stroke-width="0.9" />
<line x1="371.40" y1="235.90" x2="371.40" y2="437.20" stroke="#c9c8c8" stroke-width="0.9" />
<circle cx="337.00" cy="240.30" r="4.30" fill="#2e7fb8"/>
<circle cx="337.00" cy="250.55" r="4.05" fill="#6a9cb5"/>
<circle cx="337.00" cy="260.70" r="4.05" fill="#7bad9f"/>
<circle cx="337.00" cy="270.60" r="1.90" fill="#2b7bba"/>
<circle cx="337.00" cy="280.80" r="4.00" fill="#6aa0b8"/>
<circle cx="337.00" cy="290.70" r="3.10" fill="#2e7fbe"/>
<circle cx="371.60" cy="300.50" r="4.15" fill="#f0c07a"/>
<circle cx="371.60" cy="310.40" r="4.15" fill="#eed88a"/>
<circle cx="371.60" cy="320.30" r="1.50" fill="#f0d27a"/>
<circle cx="371.60" cy="330.20" r="2.70" fill="#de8060"/>
<circle cx="371.60" cy="340.60" r="2.90" fill="#d45a5a"/>
<circle cx="371.60" cy="350.70" r="2.75" fill="#e8a070"/>
<circle cx="371.60" cy="360.70" r="2.60" fill="#f0c47e"/>
<circle cx="337.00" cy="370.70" r="3.30" fill="#2a80bc"/>
<circle cx="371.60" cy="380.70" r="1.90" fill="#f2d488"/>
<circle cx="371.60" cy="390.60" r="3.10" fill="#e09064"/>
<circle cx="371.60" cy="400.70" r="3.35" fill="#d66a56"/>
<circle cx="337.00" cy="410.80" r="1.50" fill="#2a80bc"/>
<circle cx="337.00" cy="420.60" r="3.70" fill="#6ea4ac"/>
<circle cx="337.00" cy="430.70" r="1.25" fill="#2a80bc"/>
<line x1="336.40" y1="437.20" x2="336.40" y2="439.20" stroke="#333" stroke-width="0.9" />
<line x1="371.40" y1="437.20" x2="371.40" y2="439.20" stroke="#333" stroke-width="0.9" />
<text transform="translate(336.40,448.30) scale(0.9091,1)" font-size="8.25" text-anchor="middle" fill="#231f20" >Up</text>
<text transform="translate(371.40,448.30) scale(0.9091,1)" font-size="8.25" text-anchor="middle" fill="#231f20" >Down</text>
<text x="407.80" y="284.60" font-size="7.90" text-anchor="start" fill="#231f20" textLength="49.9" lengthAdjust="spacingAndGlyphs">-log10(p-value)</text>
<rect x="409.00" y="289.60" width="8.90" height="8.80" fill="#f1efef" />
<circle cx="413.5" cy="294.00" r="1.5" fill="#5a9ac0"/>
<text transform="translate(421.90,296.60) scale(0.9091,1)" font-size="7.70" text-anchor="start" fill="#231f20" >10</text>
<rect x="409.00" y="299.40" width="8.90" height="8.80" fill="#f1efef" />
<circle cx="413.5" cy="303.80" r="1.5" fill="#e8d888"/>
<text transform="translate(421.90,306.40) scale(0.9091,1)" font-size="7.70" text-anchor="start" fill="#231f20" >20</text>
<rect x="409.00" y="309.20" width="8.90" height="8.80" fill="#f1efef" />
<circle cx="413.5" cy="313.60" r="1.5" fill="#e08a60"/>
<text transform="translate(421.90,316.20) scale(0.9091,1)" font-size="7.70" text-anchor="start" fill="#231f20" >30</text>
<text x="407.80" y="334.30" font-size="7.90" text-anchor="start" fill="#231f20" textLength="24.3" lengthAdjust="spacingAndGlyphs">#Genes</text>
<circle cx="413.6" cy="344.00" r="2.30" fill="#1a1a1a"/>
<text transform="translate(421.90,346.60) scale(0.9091,1)" font-size="7.70" text-anchor="start" fill="#231f20" >100</text>
<circle cx="413.6" cy="354.02" r="2.90" fill="#1a1a1a"/>
<text transform="translate(421.90,356.62) scale(0.9091,1)" font-size="7.70" text-anchor="start" fill="#231f20" >150</text>
<circle cx="413.6" cy="364.04" r="3.60" fill="#1a1a1a"/>
<text transform="translate(421.90,366.64) scale(0.9091,1)" font-size="7.70" text-anchor="start" fill="#231f20" >200</text>
<circle cx="413.6" cy="374.06" r="4.05" fill="#1a1a1a"/>
<text transform="translate(421.90,376.66) scale(0.9091,1)" font-size="7.70" text-anchor="start" fill="#231f20" >250</text>
<circle cx="413.6" cy="384.08" r="4.35" fill="#1a1a1a"/>
<text transform="translate(421.90,386.68) scale(0.9091,1)" font-size="7.70" text-anchor="start" fill="#231f20" >300</text>
<text transform="translate(169.40,487.30) scale(0.9091,1)" font-size="11.00" text-anchor="start" fill="#231f20" >E</text>
<rect x="198.10" y="513.60" width="101.10" height="43.10" fill="#ffffff" stroke="#e2e2e2" stroke-width="0.7"/>
<line x1="209.90" y1="513.60" x2="209.90" y2="556.70" stroke="#ededed" stroke-width="0.8" />
<line x1="221.50" y1="513.60" x2="221.50" y2="556.70" stroke="#ededed" stroke-width="0.8" />
<line x1="233.50" y1="513.60" x2="233.50" y2="556.70" stroke="#ededed" stroke-width="0.8" />
<line x1="245.30" y1="513.60" x2="245.30" y2="556.70" stroke="#ededed" stroke-width="0.8" />
<line x1="257.20" y1="513.60" x2="257.20" y2="556.70" stroke="#ededed" stroke-width="0.8" />
<line x1="268.75" y1="513.60" x2="268.75" y2="556.70" stroke="#ededed" stroke-width="0.8" />
<line x1="280.80" y1="513.60" x2="280.80" y2="556.70" stroke="#ededed" stroke-width="0.8" />
<line x1="292.30" y1="513.60" x2="292.30" y2="556.70" stroke="#ededed" stroke-width="0.8" />
<line x1="198.10" y1="519.60" x2="299.20" y2="519.60" stroke="#ededed" stroke-width="0.8" />
<line x1="198.10" y1="525.90" x2="299.20" y2="525.90" stroke="#ededed" stroke-width="0.8" />
<line x1="198.10" y1="532.60" x2="299.20" y2="532.60" stroke="#ededed" stroke-width="0.8" />
<line x1="198.10" y1="546.00" x2="299.20" y2="546.00" stroke="#ededed" stroke-width="0.8" />
<line x1="198.10" y1="552.80" x2="299.20" y2="552.80" stroke="#ededed" stroke-width="0.8" />
<text transform="translate(194.70,520.40) scale(0.9091,1)" font-size="8.14" text-anchor="end" fill="#231f20" >0.3</text>
<text transform="translate(194.70,527.62) scale(0.9091,1)" font-size="8.14" text-anchor="end" fill="#231f20" >0.2</text>
<text transform="translate(194.70,534.84) scale(0.9091,1)" font-size="8.14" text-anchor="end" fill="#231f20" >0.1</text>
<text transform="translate(194.70,542.06) scale(0.9091,1)" font-size="8.14" text-anchor="end" fill="#231f20" >0.0</text>
<text transform="translate(194.70,549.28) scale(0.9091,1)" font-size="8.14" text-anchor="end" fill="#231f20" >-0.1</text>
<text transform="translate(194.70,556.50) scale(0.9091,1)" font-size="8.14" text-anchor="end" fill="#231f20" >-0.2</text>
<line x1="198.10" y1="539.30" x2="299.20" y2="539.30" stroke="#cfcfcf" stroke-width="0.9" />
<polyline points="198.10,539.80 198.90,536.00 200.30,532.10 201.30,525.40 202.30,521.50 203.70,519.10 205.10,519.40 206.10,519.60 207.10,517.70 208.50,516.25 209.50,516.00 211.40,516.50 215.20,516.70 221.00,517.20 224.80,519.10 229.70,522.00 237.30,525.40 246.00,529.70 250.00,532.10 255.80,535.80 262.50,540.30 269.20,545.10 276.00,548.90 280.80,551.50 282.20,550.60 284.60,551.50 287.00,552.10 289.40,553.75 290.90,554.00 292.30,552.80 293.30,548.50 294.00,543.70 294.70,539.30" fill="none" stroke="#27a04c" stroke-width="1.35" stroke-linejoin="round"/>
<rect x="198.20" y="556.70" width="1.30" height="13.40" fill="#888" />
<rect x="199.50" y="556.70" width="1.50" height="13.40" fill="#666" />
<rect x="201.00" y="556.70" width="0.80" height="13.40" fill="#888" />
<rect x="201.80" y="556.70" width="2.40" height="13.40" fill="#bbb" />
<rect x="204.20" y="556.70" width="1.50" height="13.40" fill="#eee" />
<rect x="205.70" y="556.70" width="0.90" height="13.40" fill="#555" />
<rect x="206.60" y="556.70" width="1.90" height="13.40" fill="#999" />
<rect x="208.50" y="556.70" width="1.00" height="13.40" fill="#666" />
<rect x="209.50" y="556.70" width="6.25" height="13.40" fill="#b0b0b0" />
<rect x="215.75" y="556.70" width="0.95" height="13.40" fill="#666" />
<rect x="216.70" y="556.70" width="5.30" height="13.40" fill="#aaa" />
<rect x="222.00" y="556.70" width="1.40" height="13.40" fill="#f4f4f4" />
<rect x="223.40" y="556.70" width="1.50" height="13.40" fill="#999" />
<rect x="224.90" y="556.70" width="0.90" height="13.40" fill="#ddd" />
<rect x="225.80" y="556.70" width="1.00" height="13.40" fill="#aaa" />
<rect x="226.80" y="556.70" width="2.40" height="13.40" fill="#eee" />
<rect x="229.20" y="556.70" width="1.00" height="13.40" fill="#555" />
<rect x="230.20" y="556.70" width="2.80" height="13.40" fill="#aaa" />
<rect x="233.00" y="556.70" width="1.00" height="13.40" fill="#f4f4f4" />
<rect x="234.00" y="556.70" width="1.50" height="13.40" fill="#888" />
<rect x="235.50" y="556.70" width="5.25" height="13.40" fill="#ccc" />
<rect x="240.75" y="556.70" width="1.45" height="13.40" fill="#f4f4f4" />
<rect x="242.20" y="556.70" width="2.40" height="13.40" fill="#777" />
<rect x="244.60" y="556.70" width="1.40" height="13.40" fill="#aaa" />
<rect x="246.00" y="556.70" width="1.60" height="13.40" fill="#ccc" />
<rect x="247.60" y="556.70" width="1.10" height="13.40" fill="#999" />
<rect x="248.70" y="556.70" width="2.60" height="13.40" fill="#ddd" />
<rect x="251.30" y="556.70" width="1.60" height="13.40" fill="#666" />
<rect x="252.90" y="556.70" width="1.60" height="13.40" fill="#aaa" />
<rect x="254.50" y="556.70" width="1.10" height="13.40" fill="#ddd" />
<rect x="255.60" y="556.70" width="1.00" height="13.40" fill="#fff" />
<rect x="256.60" y="556.70" width="3.20" height="13.40" fill="#777" />
<rect x="259.80" y="556.70" width="2.20" height="13.40" fill="#ccc" />
<rect x="262.00" y="556.70" width="4.20" height="13.40" fill="#fff" />
<rect x="266.20" y="556.70" width="1.60" height="13.40" fill="#aaa" />
<rect x="267.80" y="556.70" width="1.50" height="13.40" fill="#ddd" />
<rect x="269.30" y="556.70" width="1.60" height="13.40" fill="#666" />
<rect x="270.90" y="556.70" width="2.70" height="13.40" fill="#f4f4f4" />
<rect x="273.60" y="556.70" width="1.60" height="13.40" fill="#aaa" />
<rect x="275.20" y="556.70" width="1.50" height="13.40" fill="#ddd" />
<rect x="276.70" y="556.70" width="1.10" height="13.40" fill="#999" />
<rect x="277.80" y="556.70" width="3.20" height="13.40" fill="#ddd" />
<rect x="281.00" y="556.70" width="1.00" height="13.40" fill="#444" />
<rect x="282.00" y="556.70" width="1.60" height="13.40" fill="#aaa" />
<rect x="283.60" y="556.70" width="1.60" height="13.40" fill="#ddd" />
<rect x="285.20" y="556.70" width="1.60" height="13.40" fill="#999" />
<rect x="286.80" y="556.70" width="3.20" height="13.40" fill="#ddd" />
<rect x="290.00" y="556.70" width="3.10" height="13.40" fill="#aaa" />
<rect x="293.10" y="556.70" width="1.60" height="13.40" fill="#444" />
<rect x="294.70" y="556.70" width="0.40" height="13.40" fill="#ccc" />
<defs><linearGradient id="cbA" x1="0" x2="1" y1="0" y2="0"><stop offset="0" stop-color="#c42424"/><stop offset="0.2" stop-color="#d84848"/><stop offset="0.6" stop-color="#e46a6a"/><stop offset="1" stop-color="#ea7c7c"/></linearGradient></defs>
<rect x="198.10" y="570.10" width="43.10" height="3.70" fill="url(#cbA)" />
<rect x="241.20" y="570.10" width="13.30" height="3.70" fill="#ecb4cc" />
<rect x="254.50" y="570.10" width="9.50" height="3.70" fill="#d8d0ea" />
<rect x="264.00" y="570.10" width="8.50" height="3.70" fill="#c4b6e2" />
<rect x="272.50" y="570.10" width="7.50" height="3.70" fill="#8e80ca" />
<rect x="280.00" y="570.10" width="9.40" height="3.70" fill="#6e52b0" />
<rect x="289.40" y="570.10" width="5.70" height="3.70" fill="#4a2090" />
<text x="248.90" y="497.30" font-size="7.60" text-anchor="middle" fill="#231f20" textLength="110.8" lengthAdjust="spacingAndGlyphs">Cell Adhesion Molecules gene set</text>
<text x="249.80" y="505.90" font-size="7.60" text-anchor="middle" fill="#231f20" textLength="58.2" lengthAdjust="spacingAndGlyphs">NES=1.36 p=0.03</text>
<text transform="translate(175.40,534.50) rotate(-90) scale(0.9091,1)" font-size="9.35" text-anchor="middle" fill="#231f20" >Enrichment score(ES)</text>
<text transform="translate(192.10,585.00) scale(0.9091,1)" font-size="7.48" text-anchor="start" fill="#231f20" >ASCL-MK</text>
<text transform="translate(274.50,585.00) scale(0.9091,1)" font-size="7.48" text-anchor="start" fill="#231f20" >CB-MK</text>
<rect x="355.10" y="512.40" width="101.50" height="45.00" fill="#ffffff" stroke="#e2e2e2" stroke-width="0.7"/>
<line x1="367.00" y1="512.40" x2="367.00" y2="557.40" stroke="#ededed" stroke-width="0.8" />
<line x1="378.80" y1="512.40" x2="378.80" y2="557.40" stroke="#ededed" stroke-width="0.8" />
<line x1="390.50" y1="512.40" x2="390.50" y2="557.40" stroke="#ededed" stroke-width="0.8" />
<line x1="402.20" y1="512.40" x2="402.20" y2="557.40" stroke="#ededed" stroke-width="0.8" />
<line x1="413.80" y1="512.40" x2="413.80" y2="557.40" stroke="#ededed" stroke-width="0.8" />
<line x1="425.40" y1="512.40" x2="425.40" y2="557.40" stroke="#ededed" stroke-width="0.8" />
<line x1="436.90" y1="512.40" x2="436.90" y2="557.40" stroke="#ededed" stroke-width="0.8" />
<line x1="448.90" y1="512.40" x2="448.90" y2="557.40" stroke="#ededed" stroke-width="0.8" />
<line x1="355.10" y1="516.25" x2="456.60" y2="516.25" stroke="#ededed" stroke-width="0.8" />
<line x1="355.10" y1="523.00" x2="456.60" y2="523.00" stroke="#ededed" stroke-width="0.8" />
<line x1="355.10" y1="529.70" x2="456.60" y2="529.70" stroke="#ededed" stroke-width="0.8" />
<line x1="355.10" y1="535.50" x2="456.60" y2="535.50" stroke="#ededed" stroke-width="0.8" />
<line x1="355.10" y1="541.70" x2="456.60" y2="541.70" stroke="#ededed" stroke-width="0.8" />
<line x1="355.10" y1="553.75" x2="456.60" y2="553.75" stroke="#ededed" stroke-width="0.8" />
<text transform="translate(349.50,516.80) scale(0.9091,1)" font-size="8.14" text-anchor="end" fill="#231f20" >0.5</text>
<text transform="translate(349.50,523.52) scale(0.9091,1)" font-size="8.14" text-anchor="end" fill="#231f20" >0.4</text>
<text transform="translate(349.50,530.24) scale(0.9091,1)" font-size="8.14" text-anchor="end" fill="#231f20" >0.3</text>
<text transform="translate(349.50,536.96) scale(0.9091,1)" font-size="8.14" text-anchor="end" fill="#231f20" >0.2</text>
<text transform="translate(349.50,543.68) scale(0.9091,1)" font-size="8.14" text-anchor="end" fill="#231f20" >0.1</text>
<text transform="translate(349.50,550.40) scale(0.9091,1)" font-size="8.14" text-anchor="end" fill="#231f20" >0.0</text>
<text transform="translate(349.50,557.12) scale(0.9091,1)" font-size="8.14" text-anchor="end" fill="#231f20" >-0.1</text>
<line x1="355.10" y1="547.90" x2="456.60" y2="547.90" stroke="#cfcfcf" stroke-width="0.9" />
<polyline points="355.10,548.20 355.80,536.90 356.50,527.70 357.40,522.30 358.50,519.70 360.00,519.20 361.50,519.70 363.10,516.90 364.20,515.10 365.70,515.40 367.70,514.60 370.00,515.70 373.80,516.90 376.20,517.20 382.30,520.80 386.90,523.10 396.20,528.50 400.00,529.20 410.00,535.50 419.60,541.70 429.20,547.50 434.00,550.20 436.00,549.40 437.90,550.40 441.70,552.80 444.10,553.30 445.10,552.30 447.00,553.75 448.90,554.70 449.90,552.30 450.90,549.40 451.50,547.00" fill="none" stroke="#27a04c" stroke-width="1.35" stroke-linejoin="round"/>
<rect x="355.10" y="557.40" width="1.70" height="14.60" fill="#555" />
<rect x="356.80" y="557.40" width="2.45" height="14.60" fill="#999" />
<rect x="359.25" y="557.40" width="1.45" height="14.60" fill="#ddd" />
<rect x="360.70" y="557.40" width="1.90" height="14.60" fill="#aaa" />
<rect x="362.60" y="557.40" width="1.20" height="14.60" fill="#555" />
<rect x="363.80" y="557.40" width="1.70" height="14.60" fill="#fff" />
<rect x="365.50" y="557.40" width="2.40" height="14.60" fill="#888" />
<rect x="367.90" y="557.40" width="2.40" height="14.60" fill="#eee" />
<rect x="370.30" y="557.40" width="1.00" height="14.60" fill="#aaa" />
<rect x="371.30" y="557.40" width="1.40" height="14.60" fill="#fff" />
<rect x="372.70" y="557.40" width="0.90" height="14.60" fill="#999" />
<rect x="373.60" y="557.40" width="0.70" height="14.60" fill="#777" />
<rect x="374.30" y="557.40" width="0.90" height="14.60" fill="#aaa" />
<rect x="375.20" y="557.40" width="0.70" height="14.60" fill="#777" />
<rect x="375.90" y="557.40" width="0.70" height="14.60" fill="#aaa" />
<rect x="376.60" y="557.40" width="5.20" height="14.60" fill="#fff" />
<rect x="381.80" y="557.40" width="1.50" height="14.60" fill="#aaa" />
<rect x="383.30" y="557.40" width="1.90" height="14.60" fill="#fff" />
<rect x="385.20" y="557.40" width="1.50" height="14.60" fill="#888" />
<rect x="386.70" y="557.40" width="8.60" height="14.60" fill="#fff" />
<rect x="395.30" y="557.40" width="1.45" height="14.60" fill="#999" />
<rect x="396.75" y="557.40" width="1.95" height="14.60" fill="#fff" />
<rect x="398.70" y="557.40" width="1.40" height="14.60" fill="#888" />
<rect x="400.10" y="557.40" width="5.50" height="14.60" fill="#fff" />
<rect x="405.60" y="557.40" width="1.30" height="14.60" fill="#666" />
<rect x="406.90" y="557.40" width="1.50" height="14.60" fill="#eee" />
<rect x="408.40" y="557.40" width="2.70" height="14.60" fill="#bbb" />
<rect x="411.10" y="557.40" width="6.70" height="14.60" fill="#fff" />
<rect x="417.80" y="557.40" width="1.40" height="14.60" fill="#888" />
<rect x="419.20" y="557.40" width="3.70" height="14.60" fill="#fff" />
<rect x="422.90" y="557.40" width="1.10" height="14.60" fill="#888" />
<rect x="424.00" y="557.40" width="8.90" height="14.60" fill="#fff" />
<rect x="432.90" y="557.40" width="1.30" height="14.60" fill="#999" />
<rect x="434.20" y="557.40" width="0.80" height="14.60" fill="#777" />
<rect x="435.00" y="557.40" width="0.70" height="14.60" fill="#999" />
<rect x="435.70" y="557.40" width="5.00" height="14.60" fill="#fff" />
<rect x="440.70" y="557.40" width="1.70" height="14.60" fill="#bbb" />
<rect x="442.40" y="557.40" width="1.60" height="14.60" fill="#fff" />
<rect x="444.00" y="557.40" width="1.20" height="14.60" fill="#666" />
<rect x="445.20" y="557.40" width="3.80" height="14.60" fill="#fff" />
<rect x="449.00" y="557.40" width="1.70" height="14.60" fill="#666" />
<rect x="450.70" y="557.40" width="0.90" height="14.60" fill="#fff" />
<defs><linearGradient id="cbB" x1="0" x2="1" y1="0" y2="0"><stop offset="0" stop-color="#c42424"/><stop offset="0.2" stop-color="#d84848"/><stop offset="0.6" stop-color="#e46a6a"/><stop offset="1" stop-color="#ea7c7c"/></linearGradient></defs>
<rect x="355.10" y="572.00" width="43.10" height="3.60" fill="url(#cbB)" />
<rect x="398.20" y="572.00" width="12.80" height="3.60" fill="#ecb4cc" />
<rect x="411.00" y="572.00" width="9.60" height="3.60" fill="#d8d0ea" />
<rect x="420.60" y="572.00" width="8.40" height="3.60" fill="#c4b6e2" />
<rect x="429.00" y="572.00" width="6.70" height="3.60" fill="#8e80ca" />
<rect x="435.70" y="572.00" width="10.60" height="3.60" fill="#6e52b0" />
<rect x="446.30" y="572.00" width="5.30" height="3.60" fill="#4a2090" />
<text x="403.00" y="496.00" font-size="7.60" text-anchor="middle" fill="#231f20" textLength="44.4" lengthAdjust="spacingAndGlyphs">MSC gene set</text>
<text x="401.85" y="506.50" font-size="7.60" text-anchor="middle" fill="#231f20" textLength="56.1" lengthAdjust="spacingAndGlyphs">NES=1.86 p=0.00</text>
<text transform="translate(331.50,526.80) rotate(-90) scale(0.9091,1)" font-size="9.35" text-anchor="middle" fill="#231f20" >Enrichment score(ES)</text>
<text transform="translate(347.00,585.00) scale(0.9091,1)" font-size="7.48" text-anchor="start" fill="#231f20" >ASCL-MK</text>
<text transform="translate(428.50,585.00) scale(0.9091,1)" font-size="7.48" text-anchor="start" fill="#231f20" >CB-MK</text>
<rect x="0" y="0" width="520" height="1" fill="#0d0d0d"/>
<rect x="0" y="0" width="1" height="655" fill="#0d0d0d"/>
<rect x="518" y="0" width="1" height="655" fill="#8a8a8a"/>
<rect x="519" y="0" width="1" height="655" fill="#444444"/>
<rect x="0" y="653" width="518" height="1" fill="#e2e2e2"/>
<rect x="0" y="654" width="519" height="1" fill="#0a0a0a"/>
<rect x="519" y="654" width="1" height="1" fill="#777777"/>
</svg>
</body></html>
